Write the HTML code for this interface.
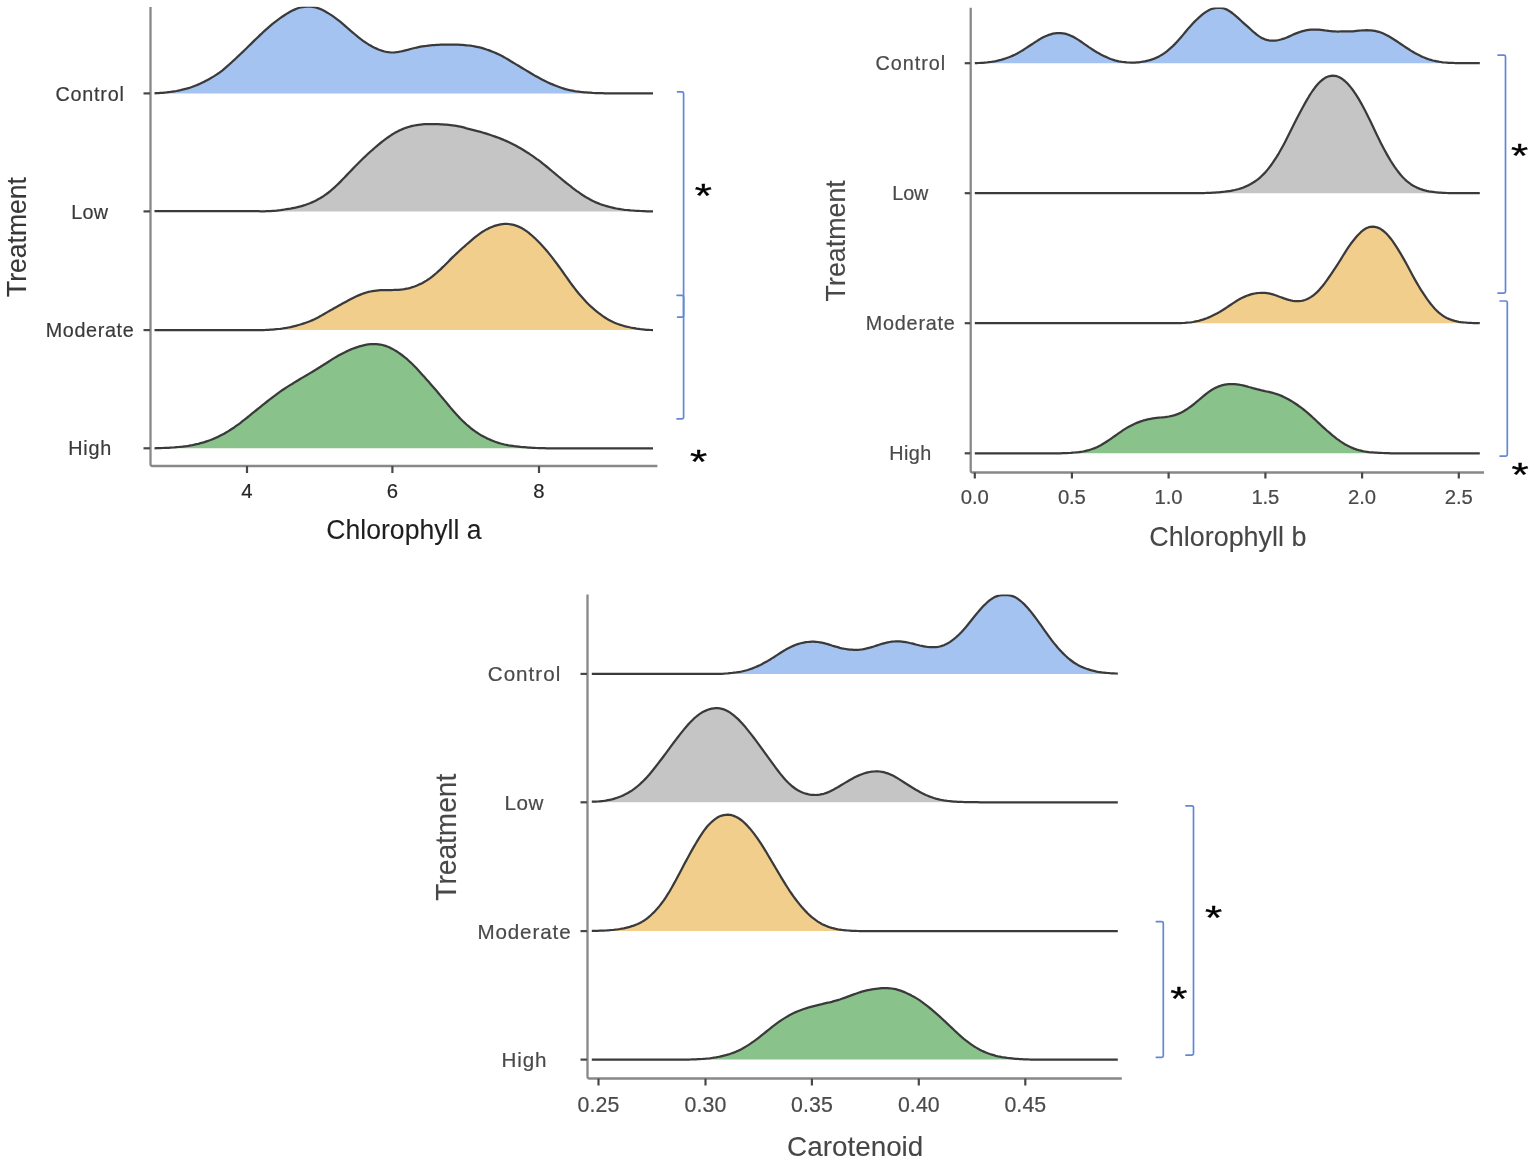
<!DOCTYPE html>
<html lang="en">
<head>
<meta charset="utf-8">
<title>Ridgeline plots</title>
<style>
html,body{margin:0;padding:0;background:#fff;}
body{width:1535px;height:1161px;overflow:hidden;}
svg{display:block;font-family:"Liberation Sans",sans-serif;}
</style>
</head>
<body>
<svg width="1535" height="1161" viewBox="0 0 1535 1161">
<rect width="1535" height="1161" fill="#ffffff"/>
<clipPath id="clip150"><rect x="150.5" y="6.8" width="546.9" height="459.0"/></clipPath>
<g clip-path="url(#clip150)">
<path d="M154.5 93.3L156.5 93.2L158.5 93.1L160.5 92.9L162.5 92.8L164.5 92.6L166.5 92.4L168.5 92.1L170.5 91.9L172.5 91.6L174.5 91.3L176.5 91.0L178.5 90.6L180.5 90.2L182.5 89.7L184.5 89.2L186.5 88.7L188.5 88.1L190.5 87.5L192.5 86.8L194.5 86.0L196.5 85.2L198.5 84.4L200.5 83.5L202.5 82.5L204.5 81.6L206.5 80.5L208.5 79.4L210.5 78.3L212.5 77.1L214.5 75.9L216.5 74.6L218.5 73.3L220.5 71.8L222.5 70.3L224.5 68.6L226.5 66.9L228.5 65.2L230.5 63.3L232.5 61.5L234.5 59.7L236.5 57.8L238.5 55.9L240.5 54.0L242.5 52.1L244.5 50.2L246.5 48.3L248.5 46.3L250.5 44.4L252.5 42.4L254.5 40.4L256.5 38.5L258.5 36.6L260.5 34.6L262.5 32.8L264.5 30.9L266.5 29.1L268.5 27.3L270.5 25.6L272.5 23.9L274.5 22.3L276.5 20.8L278.5 19.3L280.5 17.9L282.5 16.5L284.5 15.2L286.5 13.9L288.5 12.7L290.5 11.6L292.5 10.5L294.5 9.6L296.5 8.7L298.5 8.0L300.5 7.5L302.5 7.1L304.5 6.8L306.5 6.6L308.5 6.6L310.5 6.6L312.5 6.8L314.5 7.2L316.5 7.7L318.5 8.3L320.5 9.1L322.5 10.1L324.5 11.1L326.5 12.2L328.5 13.4L330.5 14.6L332.5 15.9L334.5 17.3L336.5 18.8L338.5 20.3L340.5 21.9L342.5 23.6L344.5 25.3L346.5 27.1L348.5 28.8L350.5 30.6L352.5 32.3L354.5 34.0L356.5 35.7L358.5 37.3L360.5 38.9L362.5 40.4L364.5 41.8L366.5 43.1L368.5 44.4L370.5 45.5L372.5 46.7L374.5 47.7L376.5 48.6L378.5 49.5L380.5 50.2L382.5 50.9L384.5 51.5L386.5 51.9L388.5 52.2L390.5 52.4L392.5 52.5L394.5 52.4L396.5 52.2L398.5 51.9L400.5 51.5L402.5 51.1L404.5 50.6L406.5 50.1L408.5 49.6L410.5 49.0L412.5 48.5L414.5 48.0L416.5 47.6L418.5 47.1L420.5 46.7L422.5 46.4L424.5 46.1L426.5 45.9L428.5 45.6L430.5 45.4L432.5 45.2L434.5 45.1L436.5 44.9L438.5 44.8L440.5 44.7L442.5 44.6L444.5 44.6L446.5 44.5L448.5 44.5L450.5 44.5L452.5 44.6L454.5 44.6L456.5 44.7L458.5 44.7L460.5 44.8L462.5 44.9L464.5 45.1L466.5 45.3L468.5 45.5L470.5 45.7L472.5 46.0L474.5 46.4L476.5 46.8L478.5 47.2L480.5 47.7L482.5 48.2L484.5 48.8L486.5 49.5L488.5 50.1L490.5 50.9L492.5 51.7L494.5 52.5L496.5 53.4L498.5 54.3L500.5 55.3L502.5 56.3L504.5 57.4L506.5 58.6L508.5 59.7L510.5 61.0L512.5 62.2L514.5 63.4L516.5 64.6L518.5 65.8L520.5 67.0L522.5 68.2L524.5 69.4L526.5 70.6L528.5 71.8L530.5 73.0L532.5 74.2L534.5 75.4L536.5 76.5L538.5 77.6L540.5 78.7L542.5 79.8L544.5 80.8L546.5 81.8L548.5 82.7L550.5 83.6L552.5 84.4L554.5 85.2L556.5 86.0L558.5 86.8L560.5 87.5L562.5 88.2L564.5 88.8L566.5 89.4L568.5 89.9L570.5 90.3L572.5 90.7L574.5 91.1L576.5 91.4L578.5 91.6L580.5 91.9L582.5 92.1L584.5 92.3L586.5 92.4L588.5 92.6L590.5 92.7L592.5 92.9L594.5 93.0L596.5 93.0L598.5 93.1L600.5 93.2L602.5 93.2L604.5 93.3L606.5 93.3L608.5 93.3L610.5 93.4L612.5 93.4L614.5 93.4L616.5 93.4L618.5 93.4L620.5 93.4L622.5 93.4L624.5 93.4L626.5 93.4L628.5 93.4L630.5 93.4L632.5 93.4L634.5 93.4L636.5 93.4L638.5 93.4L640.5 93.4L642.5 93.4L644.5 93.4L646.5 93.4L648.5 93.4L650.5 93.4L652.5 93.4L653.0 93.4L653.0 93.4L154.5 93.4Z" fill="#a5c3f1" stroke="none"/>
<path d="M154.5 93.3L156.5 93.2L158.5 93.1L160.5 92.9L162.5 92.8L164.5 92.6L166.5 92.4L168.5 92.1L170.5 91.9L172.5 91.6L174.5 91.3L176.5 91.0L178.5 90.6L180.5 90.2L182.5 89.7L184.5 89.2L186.5 88.7L188.5 88.1L190.5 87.5L192.5 86.8L194.5 86.0L196.5 85.2L198.5 84.4L200.5 83.5L202.5 82.5L204.5 81.6L206.5 80.5L208.5 79.4L210.5 78.3L212.5 77.1L214.5 75.9L216.5 74.6L218.5 73.3L220.5 71.8L222.5 70.3L224.5 68.6L226.5 66.9L228.5 65.2L230.5 63.3L232.5 61.5L234.5 59.7L236.5 57.8L238.5 55.9L240.5 54.0L242.5 52.1L244.5 50.2L246.5 48.3L248.5 46.3L250.5 44.4L252.5 42.4L254.5 40.4L256.5 38.5L258.5 36.6L260.5 34.6L262.5 32.8L264.5 30.9L266.5 29.1L268.5 27.3L270.5 25.6L272.5 23.9L274.5 22.3L276.5 20.8L278.5 19.3L280.5 17.9L282.5 16.5L284.5 15.2L286.5 13.9L288.5 12.7L290.5 11.6L292.5 10.5L294.5 9.6L296.5 8.7L298.5 8.0L300.5 7.5L302.5 7.1L304.5 6.8L306.5 6.6L308.5 6.6L310.5 6.6L312.5 6.8L314.5 7.2L316.5 7.7L318.5 8.3L320.5 9.1L322.5 10.1L324.5 11.1L326.5 12.2L328.5 13.4L330.5 14.6L332.5 15.9L334.5 17.3L336.5 18.8L338.5 20.3L340.5 21.9L342.5 23.6L344.5 25.3L346.5 27.1L348.5 28.8L350.5 30.6L352.5 32.3L354.5 34.0L356.5 35.7L358.5 37.3L360.5 38.9L362.5 40.4L364.5 41.8L366.5 43.1L368.5 44.4L370.5 45.5L372.5 46.7L374.5 47.7L376.5 48.6L378.5 49.5L380.5 50.2L382.5 50.9L384.5 51.5L386.5 51.9L388.5 52.2L390.5 52.4L392.5 52.5L394.5 52.4L396.5 52.2L398.5 51.9L400.5 51.5L402.5 51.1L404.5 50.6L406.5 50.1L408.5 49.6L410.5 49.0L412.5 48.5L414.5 48.0L416.5 47.6L418.5 47.1L420.5 46.7L422.5 46.4L424.5 46.1L426.5 45.9L428.5 45.6L430.5 45.4L432.5 45.2L434.5 45.1L436.5 44.9L438.5 44.8L440.5 44.7L442.5 44.6L444.5 44.6L446.5 44.5L448.5 44.5L450.5 44.5L452.5 44.6L454.5 44.6L456.5 44.7L458.5 44.7L460.5 44.8L462.5 44.9L464.5 45.1L466.5 45.3L468.5 45.5L470.5 45.7L472.5 46.0L474.5 46.4L476.5 46.8L478.5 47.2L480.5 47.7L482.5 48.2L484.5 48.8L486.5 49.5L488.5 50.1L490.5 50.9L492.5 51.7L494.5 52.5L496.5 53.4L498.5 54.3L500.5 55.3L502.5 56.3L504.5 57.4L506.5 58.6L508.5 59.7L510.5 61.0L512.5 62.2L514.5 63.4L516.5 64.6L518.5 65.8L520.5 67.0L522.5 68.2L524.5 69.4L526.5 70.6L528.5 71.8L530.5 73.0L532.5 74.2L534.5 75.4L536.5 76.5L538.5 77.6L540.5 78.7L542.5 79.8L544.5 80.8L546.5 81.8L548.5 82.7L550.5 83.6L552.5 84.4L554.5 85.2L556.5 86.0L558.5 86.8L560.5 87.5L562.5 88.2L564.5 88.8L566.5 89.4L568.5 89.9L570.5 90.3L572.5 90.7L574.5 91.1L576.5 91.4L578.5 91.6L580.5 91.9L582.5 92.1L584.5 92.3L586.5 92.4L588.5 92.6L590.5 92.7L592.5 92.9L594.5 93.0L596.5 93.0L598.5 93.1L600.5 93.2L602.5 93.2L604.5 93.3L606.5 93.3L608.5 93.3L610.5 93.4L612.5 93.4L614.5 93.4L616.5 93.4L618.5 93.4L620.5 93.4L622.5 93.4L624.5 93.4L626.5 93.4L628.5 93.4L630.5 93.4L632.5 93.4L634.5 93.4L636.5 93.4L638.5 93.4L640.5 93.4L642.5 93.4L644.5 93.4L646.5 93.4L648.5 93.4L650.5 93.4L652.5 93.4L653.0 93.4" fill="none" stroke="#3a3a3a" stroke-width="2.25" stroke-linecap="butt" stroke-linejoin="round"/>
<path d="M154.5 211.1L156.5 211.1L158.5 211.1L160.5 211.1L162.5 211.1L164.5 211.1L166.5 211.1L168.5 211.1L170.5 211.1L172.5 211.1L174.5 211.1L176.5 211.1L178.5 211.1L180.5 211.1L182.5 211.1L184.5 211.1L186.5 211.1L188.5 211.1L190.5 211.1L192.5 211.1L194.5 211.1L196.5 211.1L198.5 211.1L200.5 211.1L202.5 211.1L204.5 211.1L206.5 211.1L208.5 211.1L210.5 211.1L212.5 211.1L214.5 211.1L216.5 211.1L218.5 211.1L220.5 211.1L222.5 211.1L224.5 211.1L226.5 211.1L228.5 211.1L230.5 211.1L232.5 211.1L234.5 211.1L236.5 211.1L238.5 211.1L240.5 211.1L242.5 211.1L244.5 211.1L246.5 211.1L248.5 211.1L250.5 211.1L252.5 211.1L254.5 211.2L256.5 211.2L258.5 211.2L260.5 211.3L262.5 211.3L264.5 211.3L266.5 211.2L268.5 211.2L270.5 211.1L272.5 210.9L274.5 210.8L276.5 210.6L278.5 210.3L280.5 210.1L282.5 209.8L284.5 209.5L286.5 209.2L288.5 208.9L290.5 208.6L292.5 208.2L294.5 207.8L296.5 207.4L298.5 206.9L300.5 206.4L302.5 205.8L304.5 205.2L306.5 204.5L308.5 203.8L310.5 203.0L312.5 202.1L314.5 201.2L316.5 200.2L318.5 199.1L320.5 198.0L322.5 196.8L324.5 195.4L326.5 194.0L328.5 192.5L330.5 190.9L332.5 189.2L334.5 187.4L336.5 185.5L338.5 183.6L340.5 181.6L342.5 179.5L344.5 177.5L346.5 175.4L348.5 173.3L350.5 171.2L352.5 169.1L354.5 167.0L356.5 165.0L358.5 163.0L360.5 161.0L362.5 159.0L364.5 157.1L366.5 155.2L368.5 153.3L370.5 151.5L372.5 149.8L374.5 148.0L376.5 146.3L378.5 144.6L380.5 143.0L382.5 141.4L384.5 139.9L386.5 138.4L388.5 137.0L390.5 135.6L392.5 134.3L394.5 133.1L396.5 132.0L398.5 130.9L400.5 130.0L402.5 129.1L404.5 128.3L406.5 127.6L408.5 127.0L410.5 126.4L412.5 125.9L414.5 125.5L416.5 125.1L418.5 124.8L420.5 124.6L422.5 124.4L424.5 124.2L426.5 124.1L428.5 124.1L430.5 124.0L432.5 124.0L434.5 124.1L436.5 124.1L438.5 124.2L440.5 124.3L442.5 124.4L444.5 124.6L446.5 124.7L448.5 124.9L450.5 125.1L452.5 125.3L454.5 125.6L456.5 125.9L458.5 126.3L460.5 126.7L462.5 127.2L464.5 127.7L466.5 128.3L468.5 128.8L470.5 129.3L472.5 129.8L474.5 130.3L476.5 130.9L478.5 131.4L480.5 131.9L482.5 132.5L484.5 133.1L486.5 133.7L488.5 134.3L490.5 135.0L492.5 135.7L494.5 136.4L496.5 137.1L498.5 137.8L500.5 138.6L502.5 139.4L504.5 140.2L506.5 141.1L508.5 142.0L510.5 143.0L512.5 144.0L514.5 145.0L516.5 146.1L518.5 147.2L520.5 148.3L522.5 149.5L524.5 150.7L526.5 152.0L528.5 153.2L530.5 154.6L532.5 155.9L534.5 157.3L536.5 158.8L538.5 160.2L540.5 161.7L542.5 163.3L544.5 164.9L546.5 166.5L548.5 168.1L550.5 169.8L552.5 171.5L554.5 173.2L556.5 174.8L558.5 176.5L560.5 178.2L562.5 179.8L564.5 181.5L566.5 183.1L568.5 184.7L570.5 186.2L572.5 187.8L574.5 189.3L576.5 190.8L578.5 192.2L580.5 193.6L582.5 195.0L584.5 196.3L586.5 197.5L588.5 198.6L590.5 199.7L592.5 200.8L594.5 201.7L596.5 202.6L598.5 203.4L600.5 204.2L602.5 204.9L604.5 205.5L606.5 206.1L608.5 206.7L610.5 207.2L612.5 207.6L614.5 208.1L616.5 208.5L618.5 208.8L620.5 209.2L622.5 209.5L624.5 209.8L626.5 210.0L628.5 210.2L630.5 210.4L632.5 210.5L634.5 210.7L636.5 210.8L638.5 210.9L640.5 211.0L642.5 211.1L644.5 211.2L646.5 211.3L648.5 211.3L650.5 211.4L652.5 211.4L653.0 211.4L653.0 211.4L154.5 211.4Z" fill="#c5c5c5" stroke="none"/>
<path d="M154.5 211.1L156.5 211.1L158.5 211.1L160.5 211.1L162.5 211.1L164.5 211.1L166.5 211.1L168.5 211.1L170.5 211.1L172.5 211.1L174.5 211.1L176.5 211.1L178.5 211.1L180.5 211.1L182.5 211.1L184.5 211.1L186.5 211.1L188.5 211.1L190.5 211.1L192.5 211.1L194.5 211.1L196.5 211.1L198.5 211.1L200.5 211.1L202.5 211.1L204.5 211.1L206.5 211.1L208.5 211.1L210.5 211.1L212.5 211.1L214.5 211.1L216.5 211.1L218.5 211.1L220.5 211.1L222.5 211.1L224.5 211.1L226.5 211.1L228.5 211.1L230.5 211.1L232.5 211.1L234.5 211.1L236.5 211.1L238.5 211.1L240.5 211.1L242.5 211.1L244.5 211.1L246.5 211.1L248.5 211.1L250.5 211.1L252.5 211.1L254.5 211.2L256.5 211.2L258.5 211.2L260.5 211.3L262.5 211.3L264.5 211.3L266.5 211.2L268.5 211.2L270.5 211.1L272.5 210.9L274.5 210.8L276.5 210.6L278.5 210.3L280.5 210.1L282.5 209.8L284.5 209.5L286.5 209.2L288.5 208.9L290.5 208.6L292.5 208.2L294.5 207.8L296.5 207.4L298.5 206.9L300.5 206.4L302.5 205.8L304.5 205.2L306.5 204.5L308.5 203.8L310.5 203.0L312.5 202.1L314.5 201.2L316.5 200.2L318.5 199.1L320.5 198.0L322.5 196.8L324.5 195.4L326.5 194.0L328.5 192.5L330.5 190.9L332.5 189.2L334.5 187.4L336.5 185.5L338.5 183.6L340.5 181.6L342.5 179.5L344.5 177.5L346.5 175.4L348.5 173.3L350.5 171.2L352.5 169.1L354.5 167.0L356.5 165.0L358.5 163.0L360.5 161.0L362.5 159.0L364.5 157.1L366.5 155.2L368.5 153.3L370.5 151.5L372.5 149.8L374.5 148.0L376.5 146.3L378.5 144.6L380.5 143.0L382.5 141.4L384.5 139.9L386.5 138.4L388.5 137.0L390.5 135.6L392.5 134.3L394.5 133.1L396.5 132.0L398.5 130.9L400.5 130.0L402.5 129.1L404.5 128.3L406.5 127.6L408.5 127.0L410.5 126.4L412.5 125.9L414.5 125.5L416.5 125.1L418.5 124.8L420.5 124.6L422.5 124.4L424.5 124.2L426.5 124.1L428.5 124.1L430.5 124.0L432.5 124.0L434.5 124.1L436.5 124.1L438.5 124.2L440.5 124.3L442.5 124.4L444.5 124.6L446.5 124.7L448.5 124.9L450.5 125.1L452.5 125.3L454.5 125.6L456.5 125.9L458.5 126.3L460.5 126.7L462.5 127.2L464.5 127.7L466.5 128.3L468.5 128.8L470.5 129.3L472.5 129.8L474.5 130.3L476.5 130.9L478.5 131.4L480.5 131.9L482.5 132.5L484.5 133.1L486.5 133.7L488.5 134.3L490.5 135.0L492.5 135.7L494.5 136.4L496.5 137.1L498.5 137.8L500.5 138.6L502.5 139.4L504.5 140.2L506.5 141.1L508.5 142.0L510.5 143.0L512.5 144.0L514.5 145.0L516.5 146.1L518.5 147.2L520.5 148.3L522.5 149.5L524.5 150.7L526.5 152.0L528.5 153.2L530.5 154.6L532.5 155.9L534.5 157.3L536.5 158.8L538.5 160.2L540.5 161.7L542.5 163.3L544.5 164.9L546.5 166.5L548.5 168.1L550.5 169.8L552.5 171.5L554.5 173.2L556.5 174.8L558.5 176.5L560.5 178.2L562.5 179.8L564.5 181.5L566.5 183.1L568.5 184.7L570.5 186.2L572.5 187.8L574.5 189.3L576.5 190.8L578.5 192.2L580.5 193.6L582.5 195.0L584.5 196.3L586.5 197.5L588.5 198.6L590.5 199.7L592.5 200.8L594.5 201.7L596.5 202.6L598.5 203.4L600.5 204.2L602.5 204.9L604.5 205.5L606.5 206.1L608.5 206.7L610.5 207.2L612.5 207.6L614.5 208.1L616.5 208.5L618.5 208.8L620.5 209.2L622.5 209.5L624.5 209.8L626.5 210.0L628.5 210.2L630.5 210.4L632.5 210.5L634.5 210.7L636.5 210.8L638.5 210.9L640.5 211.0L642.5 211.1L644.5 211.2L646.5 211.3L648.5 211.3L650.5 211.4L652.5 211.4L653.0 211.4" fill="none" stroke="#3a3a3a" stroke-width="2.25" stroke-linecap="butt" stroke-linejoin="round"/>
<path d="M154.5 330.1L156.5 330.1L158.5 330.1L160.5 330.1L162.5 330.1L164.5 330.1L166.5 330.1L168.5 330.1L170.5 330.1L172.5 330.1L174.5 330.1L176.5 330.1L178.5 330.1L180.5 330.1L182.5 330.1L184.5 330.1L186.5 330.1L188.5 330.1L190.5 330.1L192.5 330.1L194.5 330.1L196.5 330.1L198.5 330.1L200.5 330.1L202.5 330.1L204.5 330.1L206.5 330.1L208.5 330.1L210.5 330.1L212.5 330.1L214.5 330.1L216.5 330.1L218.5 330.1L220.5 330.1L222.5 330.1L224.5 330.1L226.5 330.1L228.5 330.1L230.5 330.1L232.5 330.1L234.5 330.1L236.5 330.1L238.5 330.1L240.5 330.1L242.5 330.1L244.5 330.1L246.5 330.1L248.5 330.1L250.5 330.1L252.5 330.1L254.5 330.1L256.5 330.1L258.5 330.1L260.5 330.1L262.5 330.0L264.5 330.0L266.5 329.9L268.5 329.8L270.5 329.7L272.5 329.6L274.5 329.4L276.5 329.2L278.5 329.0L280.5 328.8L282.5 328.5L284.5 328.2L286.5 327.9L288.5 327.5L290.5 327.1L292.5 326.6L294.5 326.1L296.5 325.6L298.5 325.0L300.5 324.5L302.5 323.8L304.5 323.2L306.5 322.5L308.5 321.8L310.5 321.0L312.5 320.1L314.5 319.2L316.5 318.2L318.5 317.2L320.5 316.1L322.5 314.9L324.5 313.8L326.5 312.6L328.5 311.4L330.5 310.3L332.5 309.2L334.5 308.0L336.5 306.9L338.5 305.8L340.5 304.7L342.5 303.6L344.5 302.5L346.5 301.4L348.5 300.3L350.5 299.2L352.5 298.2L354.5 297.2L356.5 296.3L358.5 295.4L360.5 294.6L362.5 293.8L364.5 293.1L366.5 292.5L368.5 291.9L370.5 291.5L372.5 291.1L374.5 290.8L376.5 290.6L378.5 290.4L380.5 290.2L382.5 290.1L384.5 290.1L386.5 290.0L388.5 290.0L390.5 290.0L392.5 290.0L394.5 289.9L396.5 289.9L398.5 289.8L400.5 289.6L402.5 289.4L404.5 289.1L406.5 288.7L408.5 288.3L410.5 287.8L412.5 287.1L414.5 286.5L416.5 285.7L418.5 284.8L420.5 283.9L422.5 282.9L424.5 281.8L426.5 280.6L428.5 279.3L430.5 277.9L432.5 276.3L434.5 274.7L436.5 273.0L438.5 271.2L440.5 269.4L442.5 267.4L444.5 265.5L446.5 263.5L448.5 261.5L450.5 259.4L452.5 257.4L454.5 255.5L456.5 253.6L458.5 251.7L460.5 249.8L462.5 248.0L464.5 246.3L466.5 244.5L468.5 242.8L470.5 241.1L472.5 239.4L474.5 237.7L476.5 236.1L478.5 234.6L480.5 233.1L482.5 231.8L484.5 230.6L486.5 229.4L488.5 228.4L490.5 227.5L492.5 226.7L494.5 225.9L496.5 225.3L498.5 224.8L500.5 224.4L502.5 224.1L504.5 223.9L506.5 223.9L508.5 224.0L510.5 224.3L512.5 224.6L514.5 225.2L516.5 225.8L518.5 226.6L520.5 227.5L522.5 228.6L524.5 229.8L526.5 231.2L528.5 232.6L530.5 234.3L532.5 236.0L534.5 237.8L536.5 239.7L538.5 241.7L540.5 243.8L542.5 246.0L544.5 248.2L546.5 250.5L548.5 252.9L550.5 255.4L552.5 257.9L554.5 260.6L556.5 263.2L558.5 266.0L560.5 268.7L562.5 271.5L564.5 274.4L566.5 277.2L568.5 280.0L570.5 282.8L572.5 285.5L574.5 288.1L576.5 290.7L578.5 293.2L580.5 295.5L582.5 297.8L584.5 300.0L586.5 302.2L588.5 304.2L590.5 306.1L592.5 307.9L594.5 309.7L596.5 311.3L598.5 312.9L600.5 314.4L602.5 315.9L604.5 317.2L606.5 318.5L608.5 319.7L610.5 320.8L612.5 321.8L614.5 322.7L616.5 323.5L618.5 324.2L620.5 324.9L622.5 325.5L624.5 326.1L626.5 326.6L628.5 327.0L630.5 327.5L632.5 327.9L634.5 328.2L636.5 328.6L638.5 328.9L640.5 329.2L642.5 329.4L644.5 329.6L646.5 329.8L648.5 329.9L650.5 330.0L652.5 330.1L653.0 330.1L653.0 330.1L154.5 330.1Z" fill="#f2ce8d" stroke="none"/>
<path d="M154.5 330.1L156.5 330.1L158.5 330.1L160.5 330.1L162.5 330.1L164.5 330.1L166.5 330.1L168.5 330.1L170.5 330.1L172.5 330.1L174.5 330.1L176.5 330.1L178.5 330.1L180.5 330.1L182.5 330.1L184.5 330.1L186.5 330.1L188.5 330.1L190.5 330.1L192.5 330.1L194.5 330.1L196.5 330.1L198.5 330.1L200.5 330.1L202.5 330.1L204.5 330.1L206.5 330.1L208.5 330.1L210.5 330.1L212.5 330.1L214.5 330.1L216.5 330.1L218.5 330.1L220.5 330.1L222.5 330.1L224.5 330.1L226.5 330.1L228.5 330.1L230.5 330.1L232.5 330.1L234.5 330.1L236.5 330.1L238.5 330.1L240.5 330.1L242.5 330.1L244.5 330.1L246.5 330.1L248.5 330.1L250.5 330.1L252.5 330.1L254.5 330.1L256.5 330.1L258.5 330.1L260.5 330.1L262.5 330.0L264.5 330.0L266.5 329.9L268.5 329.8L270.5 329.7L272.5 329.6L274.5 329.4L276.5 329.2L278.5 329.0L280.5 328.8L282.5 328.5L284.5 328.2L286.5 327.9L288.5 327.5L290.5 327.1L292.5 326.6L294.5 326.1L296.5 325.6L298.5 325.0L300.5 324.5L302.5 323.8L304.5 323.2L306.5 322.5L308.5 321.8L310.5 321.0L312.5 320.1L314.5 319.2L316.5 318.2L318.5 317.2L320.5 316.1L322.5 314.9L324.5 313.8L326.5 312.6L328.5 311.4L330.5 310.3L332.5 309.2L334.5 308.0L336.5 306.9L338.5 305.8L340.5 304.7L342.5 303.6L344.5 302.5L346.5 301.4L348.5 300.3L350.5 299.2L352.5 298.2L354.5 297.2L356.5 296.3L358.5 295.4L360.5 294.6L362.5 293.8L364.5 293.1L366.5 292.5L368.5 291.9L370.5 291.5L372.5 291.1L374.5 290.8L376.5 290.6L378.5 290.4L380.5 290.2L382.5 290.1L384.5 290.1L386.5 290.0L388.5 290.0L390.5 290.0L392.5 290.0L394.5 289.9L396.5 289.9L398.5 289.8L400.5 289.6L402.5 289.4L404.5 289.1L406.5 288.7L408.5 288.3L410.5 287.8L412.5 287.1L414.5 286.5L416.5 285.7L418.5 284.8L420.5 283.9L422.5 282.9L424.5 281.8L426.5 280.6L428.5 279.3L430.5 277.9L432.5 276.3L434.5 274.7L436.5 273.0L438.5 271.2L440.5 269.4L442.5 267.4L444.5 265.5L446.5 263.5L448.5 261.5L450.5 259.4L452.5 257.4L454.5 255.5L456.5 253.6L458.5 251.7L460.5 249.8L462.5 248.0L464.5 246.3L466.5 244.5L468.5 242.8L470.5 241.1L472.5 239.4L474.5 237.7L476.5 236.1L478.5 234.6L480.5 233.1L482.5 231.8L484.5 230.6L486.5 229.4L488.5 228.4L490.5 227.5L492.5 226.7L494.5 225.9L496.5 225.3L498.5 224.8L500.5 224.4L502.5 224.1L504.5 223.9L506.5 223.9L508.5 224.0L510.5 224.3L512.5 224.6L514.5 225.2L516.5 225.8L518.5 226.6L520.5 227.5L522.5 228.6L524.5 229.8L526.5 231.2L528.5 232.6L530.5 234.3L532.5 236.0L534.5 237.8L536.5 239.7L538.5 241.7L540.5 243.8L542.5 246.0L544.5 248.2L546.5 250.5L548.5 252.9L550.5 255.4L552.5 257.9L554.5 260.6L556.5 263.2L558.5 266.0L560.5 268.7L562.5 271.5L564.5 274.4L566.5 277.2L568.5 280.0L570.5 282.8L572.5 285.5L574.5 288.1L576.5 290.7L578.5 293.2L580.5 295.5L582.5 297.8L584.5 300.0L586.5 302.2L588.5 304.2L590.5 306.1L592.5 307.9L594.5 309.7L596.5 311.3L598.5 312.9L600.5 314.4L602.5 315.9L604.5 317.2L606.5 318.5L608.5 319.7L610.5 320.8L612.5 321.8L614.5 322.7L616.5 323.5L618.5 324.2L620.5 324.9L622.5 325.5L624.5 326.1L626.5 326.6L628.5 327.0L630.5 327.5L632.5 327.9L634.5 328.2L636.5 328.6L638.5 328.9L640.5 329.2L642.5 329.4L644.5 329.6L646.5 329.8L648.5 329.9L650.5 330.0L652.5 330.1L653.0 330.1" fill="none" stroke="#3a3a3a" stroke-width="2.25" stroke-linecap="butt" stroke-linejoin="round"/>
<path d="M154.5 448.3L156.5 448.2L158.5 448.2L160.5 448.1L162.5 448.0L164.5 447.9L166.5 447.9L168.5 447.8L170.5 447.6L172.5 447.5L174.5 447.4L176.5 447.2L178.5 447.0L180.5 446.8L182.5 446.6L184.5 446.3L186.5 446.1L188.5 445.8L190.5 445.4L192.5 445.1L194.5 444.7L196.5 444.2L198.5 443.8L200.5 443.2L202.5 442.7L204.5 442.1L206.5 441.4L208.5 440.7L210.5 440.0L212.5 439.2L214.5 438.4L216.5 437.5L218.5 436.6L220.5 435.6L222.5 434.6L224.5 433.5L226.5 432.3L228.5 431.1L230.5 429.8L232.5 428.5L234.5 427.2L236.5 425.7L238.5 424.3L240.5 422.8L242.5 421.2L244.5 419.7L246.5 418.1L248.5 416.5L250.5 414.8L252.5 413.2L254.5 411.6L256.5 410.0L258.5 408.4L260.5 406.8L262.5 405.2L264.5 403.6L266.5 402.0L268.5 400.4L270.5 398.9L272.5 397.3L274.5 395.8L276.5 394.3L278.5 392.8L280.5 391.4L282.5 390.0L284.5 388.7L286.5 387.4L288.5 386.1L290.5 384.9L292.5 383.7L294.5 382.4L296.5 381.2L298.5 380.0L300.5 378.8L302.5 377.6L304.5 376.4L306.5 375.3L308.5 374.1L310.5 372.9L312.5 371.7L314.5 370.5L316.5 369.3L318.5 368.0L320.5 366.8L322.5 365.5L324.5 364.2L326.5 363.0L328.5 361.7L330.5 360.4L332.5 359.1L334.5 357.9L336.5 356.7L338.5 355.6L340.5 354.5L342.5 353.4L344.5 352.4L346.5 351.4L348.5 350.5L350.5 349.6L352.5 348.8L354.5 348.1L356.5 347.4L358.5 346.7L360.5 346.1L362.5 345.6L364.5 345.1L366.5 344.7L368.5 344.4L370.5 344.2L372.5 344.1L374.5 344.1L376.5 344.1L378.5 344.3L380.5 344.6L382.5 345.0L384.5 345.6L386.5 346.2L388.5 347.0L390.5 347.9L392.5 348.9L394.5 350.1L396.5 351.3L398.5 352.6L400.5 354.0L402.5 355.5L404.5 357.1L406.5 358.7L408.5 360.5L410.5 362.3L412.5 364.2L414.5 366.2L416.5 368.3L418.5 370.5L420.5 372.7L422.5 374.9L424.5 377.1L426.5 379.4L428.5 381.6L430.5 383.9L432.5 386.2L434.5 388.5L436.5 390.8L438.5 393.2L440.5 395.6L442.5 398.0L444.5 400.4L446.5 402.8L448.5 405.2L450.5 407.6L452.5 409.9L454.5 412.2L456.5 414.4L458.5 416.6L460.5 418.7L462.5 420.7L464.5 422.6L466.5 424.5L468.5 426.2L470.5 427.9L472.5 429.5L474.5 430.9L476.5 432.3L478.5 433.6L480.5 434.9L482.5 436.0L484.5 437.1L486.5 438.1L488.5 439.0L490.5 439.9L492.5 440.7L494.5 441.5L496.5 442.2L498.5 442.9L500.5 443.5L502.5 444.0L504.5 444.5L506.5 444.9L508.5 445.3L510.5 445.6L512.5 445.9L514.5 446.2L516.5 446.4L518.5 446.6L520.5 446.9L522.5 447.1L524.5 447.2L526.5 447.4L528.5 447.6L530.5 447.7L532.5 447.8L534.5 447.9L536.5 448.0L538.5 448.1L540.5 448.1L542.5 448.2L544.5 448.2L546.5 448.3L548.5 448.3L550.5 448.3L552.5 448.3L554.5 448.3L556.5 448.3L558.5 448.3L560.5 448.3L562.5 448.3L564.5 448.3L566.5 448.3L568.5 448.3L570.5 448.3L572.5 448.3L574.5 448.3L576.5 448.3L578.5 448.3L580.5 448.3L582.5 448.3L584.5 448.3L586.5 448.3L588.5 448.3L590.5 448.3L592.5 448.3L594.5 448.3L596.5 448.3L598.5 448.3L600.5 448.3L602.5 448.3L604.5 448.3L606.5 448.3L608.5 448.3L610.5 448.3L612.5 448.3L614.5 448.3L616.5 448.3L618.5 448.3L620.5 448.3L622.5 448.3L624.5 448.3L626.5 448.3L628.5 448.3L630.5 448.3L632.5 448.3L634.5 448.3L636.5 448.3L638.5 448.3L640.5 448.3L642.5 448.3L644.5 448.3L646.5 448.3L648.5 448.3L650.5 448.3L652.5 448.3L653.0 448.3L653.0 448.3L154.5 448.3Z" fill="#89c38b" stroke="none"/>
<path d="M154.5 448.3L156.5 448.2L158.5 448.2L160.5 448.1L162.5 448.0L164.5 447.9L166.5 447.9L168.5 447.8L170.5 447.6L172.5 447.5L174.5 447.4L176.5 447.2L178.5 447.0L180.5 446.8L182.5 446.6L184.5 446.3L186.5 446.1L188.5 445.8L190.5 445.4L192.5 445.1L194.5 444.7L196.5 444.2L198.5 443.8L200.5 443.2L202.5 442.7L204.5 442.1L206.5 441.4L208.5 440.7L210.5 440.0L212.5 439.2L214.5 438.4L216.5 437.5L218.5 436.6L220.5 435.6L222.5 434.6L224.5 433.5L226.5 432.3L228.5 431.1L230.5 429.8L232.5 428.5L234.5 427.2L236.5 425.7L238.5 424.3L240.5 422.8L242.5 421.2L244.5 419.7L246.5 418.1L248.5 416.5L250.5 414.8L252.5 413.2L254.5 411.6L256.5 410.0L258.5 408.4L260.5 406.8L262.5 405.2L264.5 403.6L266.5 402.0L268.5 400.4L270.5 398.9L272.5 397.3L274.5 395.8L276.5 394.3L278.5 392.8L280.5 391.4L282.5 390.0L284.5 388.7L286.5 387.4L288.5 386.1L290.5 384.9L292.5 383.7L294.5 382.4L296.5 381.2L298.5 380.0L300.5 378.8L302.5 377.6L304.5 376.4L306.5 375.3L308.5 374.1L310.5 372.9L312.5 371.7L314.5 370.5L316.5 369.3L318.5 368.0L320.5 366.8L322.5 365.5L324.5 364.2L326.5 363.0L328.5 361.7L330.5 360.4L332.5 359.1L334.5 357.9L336.5 356.7L338.5 355.6L340.5 354.5L342.5 353.4L344.5 352.4L346.5 351.4L348.5 350.5L350.5 349.6L352.5 348.8L354.5 348.1L356.5 347.4L358.5 346.7L360.5 346.1L362.5 345.6L364.5 345.1L366.5 344.7L368.5 344.4L370.5 344.2L372.5 344.1L374.5 344.1L376.5 344.1L378.5 344.3L380.5 344.6L382.5 345.0L384.5 345.6L386.5 346.2L388.5 347.0L390.5 347.9L392.5 348.9L394.5 350.1L396.5 351.3L398.5 352.6L400.5 354.0L402.5 355.5L404.5 357.1L406.5 358.7L408.5 360.5L410.5 362.3L412.5 364.2L414.5 366.2L416.5 368.3L418.5 370.5L420.5 372.7L422.5 374.9L424.5 377.1L426.5 379.4L428.5 381.6L430.5 383.9L432.5 386.2L434.5 388.5L436.5 390.8L438.5 393.2L440.5 395.6L442.5 398.0L444.5 400.4L446.5 402.8L448.5 405.2L450.5 407.6L452.5 409.9L454.5 412.2L456.5 414.4L458.5 416.6L460.5 418.7L462.5 420.7L464.5 422.6L466.5 424.5L468.5 426.2L470.5 427.9L472.5 429.5L474.5 430.9L476.5 432.3L478.5 433.6L480.5 434.9L482.5 436.0L484.5 437.1L486.5 438.1L488.5 439.0L490.5 439.9L492.5 440.7L494.5 441.5L496.5 442.2L498.5 442.9L500.5 443.5L502.5 444.0L504.5 444.5L506.5 444.9L508.5 445.3L510.5 445.6L512.5 445.9L514.5 446.2L516.5 446.4L518.5 446.6L520.5 446.9L522.5 447.1L524.5 447.2L526.5 447.4L528.5 447.6L530.5 447.7L532.5 447.8L534.5 447.9L536.5 448.0L538.5 448.1L540.5 448.1L542.5 448.2L544.5 448.2L546.5 448.3L548.5 448.3L550.5 448.3L552.5 448.3L554.5 448.3L556.5 448.3L558.5 448.3L560.5 448.3L562.5 448.3L564.5 448.3L566.5 448.3L568.5 448.3L570.5 448.3L572.5 448.3L574.5 448.3L576.5 448.3L578.5 448.3L580.5 448.3L582.5 448.3L584.5 448.3L586.5 448.3L588.5 448.3L590.5 448.3L592.5 448.3L594.5 448.3L596.5 448.3L598.5 448.3L600.5 448.3L602.5 448.3L604.5 448.3L606.5 448.3L608.5 448.3L610.5 448.3L612.5 448.3L614.5 448.3L616.5 448.3L618.5 448.3L620.5 448.3L622.5 448.3L624.5 448.3L626.5 448.3L628.5 448.3L630.5 448.3L632.5 448.3L634.5 448.3L636.5 448.3L638.5 448.3L640.5 448.3L642.5 448.3L644.5 448.3L646.5 448.3L648.5 448.3L650.5 448.3L652.5 448.3L653.0 448.3" fill="none" stroke="#3a3a3a" stroke-width="2.25" stroke-linecap="butt" stroke-linejoin="round"/>
</g>
<path d="M150.5 7.0V464.0Q150.5 466.0 152.5 466.0H657.4" fill="none" stroke="#888888" stroke-width="2.3"/>
<line x1="143.5" y1="93.4" x2="150.0" y2="93.4" stroke="#484848" stroke-width="2.20"/>
<text x="89.7" y="100.5" font-size="19.8" text-anchor="middle" fill="#3a3a3a" textLength="68.4" lengthAdjust="spacing" stroke="#3a3a3a" stroke-width="0.20">Control</text>
<line x1="143.5" y1="211.4" x2="150.0" y2="211.4" stroke="#484848" stroke-width="2.20"/>
<text x="89.7" y="218.5" font-size="19.8" text-anchor="middle" fill="#3a3a3a" textLength="36.7" lengthAdjust="spacing" stroke="#3a3a3a" stroke-width="0.20">Low</text>
<line x1="143.5" y1="330.1" x2="150.0" y2="330.1" stroke="#484848" stroke-width="2.20"/>
<text x="89.7" y="337.2" font-size="19.8" text-anchor="middle" fill="#3a3a3a" textLength="88.0" lengthAdjust="spacing" stroke="#3a3a3a" stroke-width="0.20">Moderate</text>
<line x1="143.5" y1="448.3" x2="150.0" y2="448.3" stroke="#484848" stroke-width="2.20"/>
<text x="89.7" y="455.4" font-size="19.8" text-anchor="middle" fill="#3a3a3a" textLength="43.0" lengthAdjust="spacing" stroke="#3a3a3a" stroke-width="0.20">High</text>
<line x1="247.0" y1="466.0" x2="247.0" y2="473.0" stroke="#484848" stroke-width="2.20"/>
<text x="247.0" y="497.9" font-size="20.3" text-anchor="middle" fill="#262626" stroke="#262626" stroke-width="0.20">4</text>
<line x1="392.4" y1="466.0" x2="392.4" y2="473.0" stroke="#484848" stroke-width="2.20"/>
<text x="392.4" y="497.9" font-size="20.3" text-anchor="middle" fill="#262626" stroke="#262626" stroke-width="0.20">6</text>
<line x1="539.0" y1="466.0" x2="539.0" y2="473.0" stroke="#484848" stroke-width="2.20"/>
<text x="539.0" y="497.9" font-size="20.3" text-anchor="middle" fill="#262626" stroke="#262626" stroke-width="0.20">8</text>
<text x="403.9" y="539.3" font-size="27.0" text-anchor="middle" fill="#1e1e1e" textLength="155.2" lengthAdjust="spacingAndGlyphs" stroke="#1e1e1e" stroke-width="0.10">Chlorophyll a</text>
<text x="25.5" y="237.0" font-size="27.3" text-anchor="middle" fill="#383838" textLength="120.0" lengthAdjust="spacingAndGlyphs" stroke="#383838" stroke-width="0.10" transform="rotate(-90 25.5 237.0)">Treatment</text>
<path d="M677.6 91.9 H682.0 Q683.6 91.9 683.6 93.5 V315.6 Q683.6 317.2 682.0 317.2 H677.6" fill="none" stroke="#6188d4" stroke-width="1.7" stroke-linecap="round"/>
<path d="M677.1 295.3 H682.0 Q683.6 295.3 683.6 296.9 V417.3 Q683.6 418.9 682.0 418.9 H677.1" fill="none" stroke="#6188d4" stroke-width="1.7" stroke-linecap="round"/>
<g transform="translate(703.25 206.65) scale(1.26 0.95)"><text x="0" y="0" font-size="35" text-anchor="middle" fill="#000" stroke="#000" stroke-width="0.35" stroke-linejoin="round">*</text></g>
<g transform="translate(698.65 472.65) scale(1.26 0.95)"><text x="0" y="0" font-size="35" text-anchor="middle" fill="#000" stroke="#000" stroke-width="0.35" stroke-linejoin="round">*</text></g>
<clipPath id="clip970"><rect x="970.7" y="7.5" width="553.3" height="464.8"/></clipPath>
<g clip-path="url(#clip970)">
<path d="M974.8 63.2L976.8 63.1L978.8 63.0L980.8 62.9L982.8 62.8L984.8 62.6L986.8 62.5L988.8 62.2L990.8 62.0L992.8 61.6L994.8 61.3L996.8 60.9L998.8 60.4L1000.8 59.9L1002.8 59.3L1004.8 58.7L1006.8 58.0L1008.8 57.3L1010.8 56.5L1012.8 55.6L1014.8 54.7L1016.8 53.7L1018.8 52.6L1020.8 51.4L1022.8 50.2L1024.8 48.9L1026.8 47.6L1028.8 46.3L1030.8 45.0L1032.8 43.7L1034.8 42.3L1036.8 41.1L1038.8 39.8L1040.8 38.6L1042.8 37.5L1044.8 36.5L1046.8 35.7L1048.8 34.9L1050.8 34.3L1052.8 33.7L1054.8 33.4L1056.8 33.1L1058.8 33.0L1060.8 33.1L1062.8 33.3L1064.8 33.7L1066.8 34.2L1068.8 34.9L1070.8 35.7L1072.8 36.6L1074.8 37.7L1076.8 38.9L1078.8 40.1L1080.8 41.5L1082.8 42.9L1084.8 44.3L1086.8 45.7L1088.8 47.1L1090.8 48.4L1092.8 49.7L1094.8 51.0L1096.8 52.2L1098.8 53.3L1100.8 54.4L1102.8 55.4L1104.8 56.4L1106.8 57.3L1108.8 58.2L1110.8 59.0L1112.8 59.7L1114.8 60.3L1116.8 60.8L1118.8 61.3L1120.8 61.7L1122.8 62.0L1124.8 62.2L1126.8 62.4L1128.8 62.5L1130.8 62.6L1132.8 62.6L1134.8 62.6L1136.8 62.4L1138.8 62.3L1140.8 62.0L1142.8 61.7L1144.8 61.4L1146.8 60.9L1148.8 60.4L1150.8 59.8L1152.8 59.2L1154.8 58.4L1156.8 57.5L1158.8 56.6L1160.8 55.4L1162.8 54.2L1164.8 52.8L1166.8 51.3L1168.8 49.7L1170.8 47.9L1172.8 46.1L1174.8 44.1L1176.8 42.0L1178.8 39.8L1180.8 37.5L1182.8 35.1L1184.8 32.7L1186.8 30.3L1188.8 27.9L1190.8 25.7L1192.8 23.5L1194.8 21.4L1196.8 19.5L1198.8 17.6L1200.8 15.9L1202.8 14.2L1204.8 12.7L1206.8 11.4L1208.8 10.2L1210.8 9.3L1212.8 8.6L1214.8 8.1L1216.8 7.9L1218.8 7.8L1220.8 7.8L1222.8 8.2L1224.8 8.7L1226.8 9.6L1228.8 10.7L1230.8 12.0L1232.8 13.5L1234.8 15.2L1236.8 16.9L1238.8 18.7L1240.8 20.5L1242.8 22.3L1244.8 24.1L1246.8 25.9L1248.8 27.7L1250.8 29.5L1252.8 31.3L1254.8 33.0L1256.8 34.6L1258.8 36.1L1260.8 37.4L1262.8 38.4L1264.8 39.3L1266.8 39.9L1268.8 40.3L1270.8 40.6L1272.8 40.7L1274.8 40.6L1276.8 40.4L1278.8 40.0L1280.8 39.5L1282.8 38.9L1284.8 38.3L1286.8 37.5L1288.8 36.6L1290.8 35.7L1292.8 34.8L1294.8 33.9L1296.8 33.1L1298.8 32.4L1300.8 31.7L1302.8 31.1L1304.8 30.6L1306.8 30.2L1308.8 29.9L1310.8 29.7L1312.8 29.6L1314.8 29.5L1316.8 29.6L1318.8 29.7L1320.8 29.9L1322.8 30.1L1324.8 30.4L1326.8 30.6L1328.8 30.9L1330.8 31.1L1332.8 31.3L1334.8 31.4L1336.8 31.5L1338.8 31.5L1340.8 31.4L1342.8 31.4L1344.8 31.3L1346.8 31.3L1348.8 31.3L1350.8 31.3L1352.8 31.3L1354.8 31.1L1356.8 30.9L1358.8 30.7L1360.8 30.5L1362.8 30.4L1364.8 30.3L1366.8 30.2L1368.8 30.3L1370.8 30.4L1372.8 30.6L1374.8 30.9L1376.8 31.3L1378.8 31.8L1380.8 32.5L1382.8 33.3L1384.8 34.2L1386.8 35.2L1388.8 36.3L1390.8 37.5L1392.8 38.7L1394.8 40.0L1396.8 41.3L1398.8 42.6L1400.8 44.0L1402.8 45.3L1404.8 46.7L1406.8 48.0L1408.8 49.3L1410.8 50.6L1412.8 51.8L1414.8 53.0L1416.8 54.1L1418.8 55.1L1420.8 56.1L1422.8 57.0L1424.8 57.8L1426.8 58.6L1428.8 59.3L1430.8 59.9L1432.8 60.5L1434.8 60.9L1436.8 61.3L1438.8 61.7L1440.8 62.0L1442.8 62.3L1444.8 62.5L1446.8 62.6L1448.8 62.8L1450.8 62.9L1452.8 62.9L1454.8 63.0L1456.8 63.0L1458.8 63.1L1460.8 63.1L1462.8 63.1L1464.8 63.2L1466.8 63.2L1468.8 63.2L1470.8 63.2L1472.8 63.2L1474.8 63.2L1476.8 63.2L1478.8 63.2L1479.8 63.2L1479.8 63.2L974.8 63.2Z" fill="#a5c3f1" stroke="none"/>
<path d="M974.8 63.2L976.8 63.1L978.8 63.0L980.8 62.9L982.8 62.8L984.8 62.6L986.8 62.5L988.8 62.2L990.8 62.0L992.8 61.6L994.8 61.3L996.8 60.9L998.8 60.4L1000.8 59.9L1002.8 59.3L1004.8 58.7L1006.8 58.0L1008.8 57.3L1010.8 56.5L1012.8 55.6L1014.8 54.7L1016.8 53.7L1018.8 52.6L1020.8 51.4L1022.8 50.2L1024.8 48.9L1026.8 47.6L1028.8 46.3L1030.8 45.0L1032.8 43.7L1034.8 42.3L1036.8 41.1L1038.8 39.8L1040.8 38.6L1042.8 37.5L1044.8 36.5L1046.8 35.7L1048.8 34.9L1050.8 34.3L1052.8 33.7L1054.8 33.4L1056.8 33.1L1058.8 33.0L1060.8 33.1L1062.8 33.3L1064.8 33.7L1066.8 34.2L1068.8 34.9L1070.8 35.7L1072.8 36.6L1074.8 37.7L1076.8 38.9L1078.8 40.1L1080.8 41.5L1082.8 42.9L1084.8 44.3L1086.8 45.7L1088.8 47.1L1090.8 48.4L1092.8 49.7L1094.8 51.0L1096.8 52.2L1098.8 53.3L1100.8 54.4L1102.8 55.4L1104.8 56.4L1106.8 57.3L1108.8 58.2L1110.8 59.0L1112.8 59.7L1114.8 60.3L1116.8 60.8L1118.8 61.3L1120.8 61.7L1122.8 62.0L1124.8 62.2L1126.8 62.4L1128.8 62.5L1130.8 62.6L1132.8 62.6L1134.8 62.6L1136.8 62.4L1138.8 62.3L1140.8 62.0L1142.8 61.7L1144.8 61.4L1146.8 60.9L1148.8 60.4L1150.8 59.8L1152.8 59.2L1154.8 58.4L1156.8 57.5L1158.8 56.6L1160.8 55.4L1162.8 54.2L1164.8 52.8L1166.8 51.3L1168.8 49.7L1170.8 47.9L1172.8 46.1L1174.8 44.1L1176.8 42.0L1178.8 39.8L1180.8 37.5L1182.8 35.1L1184.8 32.7L1186.8 30.3L1188.8 27.9L1190.8 25.7L1192.8 23.5L1194.8 21.4L1196.8 19.5L1198.8 17.6L1200.8 15.9L1202.8 14.2L1204.8 12.7L1206.8 11.4L1208.8 10.2L1210.8 9.3L1212.8 8.6L1214.8 8.1L1216.8 7.9L1218.8 7.8L1220.8 7.8L1222.8 8.2L1224.8 8.7L1226.8 9.6L1228.8 10.7L1230.8 12.0L1232.8 13.5L1234.8 15.2L1236.8 16.9L1238.8 18.7L1240.8 20.5L1242.8 22.3L1244.8 24.1L1246.8 25.9L1248.8 27.7L1250.8 29.5L1252.8 31.3L1254.8 33.0L1256.8 34.6L1258.8 36.1L1260.8 37.4L1262.8 38.4L1264.8 39.3L1266.8 39.9L1268.8 40.3L1270.8 40.6L1272.8 40.7L1274.8 40.6L1276.8 40.4L1278.8 40.0L1280.8 39.5L1282.8 38.9L1284.8 38.3L1286.8 37.5L1288.8 36.6L1290.8 35.7L1292.8 34.8L1294.8 33.9L1296.8 33.1L1298.8 32.4L1300.8 31.7L1302.8 31.1L1304.8 30.6L1306.8 30.2L1308.8 29.9L1310.8 29.7L1312.8 29.6L1314.8 29.5L1316.8 29.6L1318.8 29.7L1320.8 29.9L1322.8 30.1L1324.8 30.4L1326.8 30.6L1328.8 30.9L1330.8 31.1L1332.8 31.3L1334.8 31.4L1336.8 31.5L1338.8 31.5L1340.8 31.4L1342.8 31.4L1344.8 31.3L1346.8 31.3L1348.8 31.3L1350.8 31.3L1352.8 31.3L1354.8 31.1L1356.8 30.9L1358.8 30.7L1360.8 30.5L1362.8 30.4L1364.8 30.3L1366.8 30.2L1368.8 30.3L1370.8 30.4L1372.8 30.6L1374.8 30.9L1376.8 31.3L1378.8 31.8L1380.8 32.5L1382.8 33.3L1384.8 34.2L1386.8 35.2L1388.8 36.3L1390.8 37.5L1392.8 38.7L1394.8 40.0L1396.8 41.3L1398.8 42.6L1400.8 44.0L1402.8 45.3L1404.8 46.7L1406.8 48.0L1408.8 49.3L1410.8 50.6L1412.8 51.8L1414.8 53.0L1416.8 54.1L1418.8 55.1L1420.8 56.1L1422.8 57.0L1424.8 57.8L1426.8 58.6L1428.8 59.3L1430.8 59.9L1432.8 60.5L1434.8 60.9L1436.8 61.3L1438.8 61.7L1440.8 62.0L1442.8 62.3L1444.8 62.5L1446.8 62.6L1448.8 62.8L1450.8 62.9L1452.8 62.9L1454.8 63.0L1456.8 63.0L1458.8 63.1L1460.8 63.1L1462.8 63.1L1464.8 63.2L1466.8 63.2L1468.8 63.2L1470.8 63.2L1472.8 63.2L1474.8 63.2L1476.8 63.2L1478.8 63.2L1479.8 63.2" fill="none" stroke="#3a3a3a" stroke-width="2.25" stroke-linecap="butt" stroke-linejoin="round"/>
<path d="M974.8 193.2L976.8 193.2L978.8 193.2L980.8 193.2L982.8 193.2L984.8 193.2L986.8 193.2L988.8 193.2L990.8 193.2L992.8 193.2L994.8 193.2L996.8 193.2L998.8 193.2L1000.8 193.2L1002.8 193.2L1004.8 193.2L1006.8 193.2L1008.8 193.2L1010.8 193.2L1012.8 193.2L1014.8 193.2L1016.8 193.2L1018.8 193.2L1020.8 193.2L1022.8 193.2L1024.8 193.2L1026.8 193.2L1028.8 193.2L1030.8 193.2L1032.8 193.2L1034.8 193.2L1036.8 193.2L1038.8 193.2L1040.8 193.2L1042.8 193.2L1044.8 193.2L1046.8 193.2L1048.8 193.2L1050.8 193.2L1052.8 193.2L1054.8 193.2L1056.8 193.2L1058.8 193.2L1060.8 193.2L1062.8 193.2L1064.8 193.2L1066.8 193.2L1068.8 193.2L1070.8 193.2L1072.8 193.2L1074.8 193.2L1076.8 193.2L1078.8 193.2L1080.8 193.2L1082.8 193.2L1084.8 193.2L1086.8 193.2L1088.8 193.2L1090.8 193.2L1092.8 193.2L1094.8 193.2L1096.8 193.2L1098.8 193.2L1100.8 193.2L1102.8 193.2L1104.8 193.2L1106.8 193.2L1108.8 193.2L1110.8 193.2L1112.8 193.2L1114.8 193.2L1116.8 193.2L1118.8 193.2L1120.8 193.2L1122.8 193.2L1124.8 193.2L1126.8 193.2L1128.8 193.2L1130.8 193.2L1132.8 193.2L1134.8 193.2L1136.8 193.2L1138.8 193.2L1140.8 193.2L1142.8 193.2L1144.8 193.2L1146.8 193.2L1148.8 193.2L1150.8 193.2L1152.8 193.2L1154.8 193.2L1156.8 193.2L1158.8 193.2L1160.8 193.2L1162.8 193.2L1164.8 193.2L1166.8 193.2L1168.8 193.2L1170.8 193.2L1172.8 193.2L1174.8 193.2L1176.8 193.2L1178.8 193.2L1180.8 193.2L1182.8 193.2L1184.8 193.2L1186.8 193.2L1188.8 193.2L1190.8 193.2L1192.8 193.2L1194.8 193.1L1196.8 193.1L1198.8 193.1L1200.8 193.0L1202.8 193.0L1204.8 193.0L1206.8 192.9L1208.8 192.8L1210.8 192.8L1212.8 192.7L1214.8 192.6L1216.8 192.4L1218.8 192.3L1220.8 192.1L1222.8 191.9L1224.8 191.7L1226.8 191.4L1228.8 191.1L1230.8 190.8L1232.8 190.4L1234.8 190.0L1236.8 189.5L1238.8 189.0L1240.8 188.4L1242.8 187.7L1244.8 186.9L1246.8 186.0L1248.8 185.1L1250.8 184.0L1252.8 182.8L1254.8 181.5L1256.8 180.1L1258.8 178.6L1260.8 176.8L1262.8 174.9L1264.8 172.9L1266.8 170.6L1268.8 168.1L1270.8 165.5L1272.8 162.7L1274.8 159.7L1276.8 156.6L1278.8 153.3L1280.8 149.8L1282.8 146.2L1284.8 142.5L1286.8 138.6L1288.8 134.6L1290.8 130.6L1292.8 126.6L1294.8 122.5L1296.8 118.6L1298.8 114.7L1300.8 110.9L1302.8 107.2L1304.8 103.6L1306.8 100.1L1308.8 96.7L1310.8 93.5L1312.8 90.5L1314.8 87.8L1316.8 85.3L1318.8 83.0L1320.8 81.1L1322.8 79.5L1324.8 78.1L1326.8 77.0L1328.8 76.3L1330.8 75.8L1332.8 75.7L1334.8 75.8L1336.8 76.2L1338.8 77.0L1340.8 78.0L1342.8 79.4L1344.8 81.0L1346.8 82.8L1348.8 85.0L1350.8 87.4L1352.8 90.0L1354.8 92.8L1356.8 95.9L1358.8 99.2L1360.8 102.6L1362.8 106.2L1364.8 110.0L1366.8 113.9L1368.8 118.0L1370.8 122.1L1372.8 126.3L1374.8 130.5L1376.8 134.7L1378.8 138.8L1380.8 142.9L1382.8 146.8L1384.8 150.5L1386.8 154.1L1388.8 157.6L1390.8 161.0L1392.8 164.1L1394.8 167.1L1396.8 169.9L1398.8 172.5L1400.8 175.0L1402.8 177.2L1404.8 179.2L1406.8 181.1L1408.8 182.7L1410.8 184.2L1412.8 185.5L1414.8 186.6L1416.8 187.6L1418.8 188.4L1420.8 189.2L1422.8 189.8L1424.8 190.4L1426.8 190.9L1428.8 191.3L1430.8 191.6L1432.8 191.9L1434.8 192.2L1436.8 192.4L1438.8 192.6L1440.8 192.7L1442.8 192.8L1444.8 192.9L1446.8 193.0L1448.8 193.1L1450.8 193.1L1452.8 193.2L1454.8 193.2L1456.8 193.2L1458.8 193.2L1460.8 193.2L1462.8 193.2L1464.8 193.2L1466.8 193.2L1468.8 193.2L1470.8 193.2L1472.8 193.2L1474.8 193.2L1476.8 193.2L1478.8 193.2L1479.8 193.2L1479.8 193.2L974.8 193.2Z" fill="#c5c5c5" stroke="none"/>
<path d="M974.8 193.2L976.8 193.2L978.8 193.2L980.8 193.2L982.8 193.2L984.8 193.2L986.8 193.2L988.8 193.2L990.8 193.2L992.8 193.2L994.8 193.2L996.8 193.2L998.8 193.2L1000.8 193.2L1002.8 193.2L1004.8 193.2L1006.8 193.2L1008.8 193.2L1010.8 193.2L1012.8 193.2L1014.8 193.2L1016.8 193.2L1018.8 193.2L1020.8 193.2L1022.8 193.2L1024.8 193.2L1026.8 193.2L1028.8 193.2L1030.8 193.2L1032.8 193.2L1034.8 193.2L1036.8 193.2L1038.8 193.2L1040.8 193.2L1042.8 193.2L1044.8 193.2L1046.8 193.2L1048.8 193.2L1050.8 193.2L1052.8 193.2L1054.8 193.2L1056.8 193.2L1058.8 193.2L1060.8 193.2L1062.8 193.2L1064.8 193.2L1066.8 193.2L1068.8 193.2L1070.8 193.2L1072.8 193.2L1074.8 193.2L1076.8 193.2L1078.8 193.2L1080.8 193.2L1082.8 193.2L1084.8 193.2L1086.8 193.2L1088.8 193.2L1090.8 193.2L1092.8 193.2L1094.8 193.2L1096.8 193.2L1098.8 193.2L1100.8 193.2L1102.8 193.2L1104.8 193.2L1106.8 193.2L1108.8 193.2L1110.8 193.2L1112.8 193.2L1114.8 193.2L1116.8 193.2L1118.8 193.2L1120.8 193.2L1122.8 193.2L1124.8 193.2L1126.8 193.2L1128.8 193.2L1130.8 193.2L1132.8 193.2L1134.8 193.2L1136.8 193.2L1138.8 193.2L1140.8 193.2L1142.8 193.2L1144.8 193.2L1146.8 193.2L1148.8 193.2L1150.8 193.2L1152.8 193.2L1154.8 193.2L1156.8 193.2L1158.8 193.2L1160.8 193.2L1162.8 193.2L1164.8 193.2L1166.8 193.2L1168.8 193.2L1170.8 193.2L1172.8 193.2L1174.8 193.2L1176.8 193.2L1178.8 193.2L1180.8 193.2L1182.8 193.2L1184.8 193.2L1186.8 193.2L1188.8 193.2L1190.8 193.2L1192.8 193.2L1194.8 193.1L1196.8 193.1L1198.8 193.1L1200.8 193.0L1202.8 193.0L1204.8 193.0L1206.8 192.9L1208.8 192.8L1210.8 192.8L1212.8 192.7L1214.8 192.6L1216.8 192.4L1218.8 192.3L1220.8 192.1L1222.8 191.9L1224.8 191.7L1226.8 191.4L1228.8 191.1L1230.8 190.8L1232.8 190.4L1234.8 190.0L1236.8 189.5L1238.8 189.0L1240.8 188.4L1242.8 187.7L1244.8 186.9L1246.8 186.0L1248.8 185.1L1250.8 184.0L1252.8 182.8L1254.8 181.5L1256.8 180.1L1258.8 178.6L1260.8 176.8L1262.8 174.9L1264.8 172.9L1266.8 170.6L1268.8 168.1L1270.8 165.5L1272.8 162.7L1274.8 159.7L1276.8 156.6L1278.8 153.3L1280.8 149.8L1282.8 146.2L1284.8 142.5L1286.8 138.6L1288.8 134.6L1290.8 130.6L1292.8 126.6L1294.8 122.5L1296.8 118.6L1298.8 114.7L1300.8 110.9L1302.8 107.2L1304.8 103.6L1306.8 100.1L1308.8 96.7L1310.8 93.5L1312.8 90.5L1314.8 87.8L1316.8 85.3L1318.8 83.0L1320.8 81.1L1322.8 79.5L1324.8 78.1L1326.8 77.0L1328.8 76.3L1330.8 75.8L1332.8 75.7L1334.8 75.8L1336.8 76.2L1338.8 77.0L1340.8 78.0L1342.8 79.4L1344.8 81.0L1346.8 82.8L1348.8 85.0L1350.8 87.4L1352.8 90.0L1354.8 92.8L1356.8 95.9L1358.8 99.2L1360.8 102.6L1362.8 106.2L1364.8 110.0L1366.8 113.9L1368.8 118.0L1370.8 122.1L1372.8 126.3L1374.8 130.5L1376.8 134.7L1378.8 138.8L1380.8 142.9L1382.8 146.8L1384.8 150.5L1386.8 154.1L1388.8 157.6L1390.8 161.0L1392.8 164.1L1394.8 167.1L1396.8 169.9L1398.8 172.5L1400.8 175.0L1402.8 177.2L1404.8 179.2L1406.8 181.1L1408.8 182.7L1410.8 184.2L1412.8 185.5L1414.8 186.6L1416.8 187.6L1418.8 188.4L1420.8 189.2L1422.8 189.8L1424.8 190.4L1426.8 190.9L1428.8 191.3L1430.8 191.6L1432.8 191.9L1434.8 192.2L1436.8 192.4L1438.8 192.6L1440.8 192.7L1442.8 192.8L1444.8 192.9L1446.8 193.0L1448.8 193.1L1450.8 193.1L1452.8 193.2L1454.8 193.2L1456.8 193.2L1458.8 193.2L1460.8 193.2L1462.8 193.2L1464.8 193.2L1466.8 193.2L1468.8 193.2L1470.8 193.2L1472.8 193.2L1474.8 193.2L1476.8 193.2L1478.8 193.2L1479.8 193.2" fill="none" stroke="#3a3a3a" stroke-width="2.25" stroke-linecap="butt" stroke-linejoin="round"/>
<path d="M974.8 323.2L976.8 323.2L978.8 323.2L980.8 323.2L982.8 323.2L984.8 323.2L986.8 323.2L988.8 323.2L990.8 323.2L992.8 323.2L994.8 323.2L996.8 323.2L998.8 323.2L1000.8 323.2L1002.8 323.2L1004.8 323.2L1006.8 323.2L1008.8 323.2L1010.8 323.2L1012.8 323.2L1014.8 323.2L1016.8 323.2L1018.8 323.2L1020.8 323.2L1022.8 323.2L1024.8 323.2L1026.8 323.2L1028.8 323.2L1030.8 323.2L1032.8 323.2L1034.8 323.2L1036.8 323.2L1038.8 323.2L1040.8 323.2L1042.8 323.2L1044.8 323.2L1046.8 323.2L1048.8 323.2L1050.8 323.2L1052.8 323.2L1054.8 323.2L1056.8 323.2L1058.8 323.2L1060.8 323.2L1062.8 323.2L1064.8 323.2L1066.8 323.2L1068.8 323.2L1070.8 323.2L1072.8 323.2L1074.8 323.2L1076.8 323.2L1078.8 323.2L1080.8 323.2L1082.8 323.2L1084.8 323.2L1086.8 323.2L1088.8 323.2L1090.8 323.2L1092.8 323.2L1094.8 323.2L1096.8 323.2L1098.8 323.2L1100.8 323.2L1102.8 323.2L1104.8 323.2L1106.8 323.2L1108.8 323.2L1110.8 323.2L1112.8 323.2L1114.8 323.2L1116.8 323.2L1118.8 323.2L1120.8 323.2L1122.8 323.2L1124.8 323.2L1126.8 323.2L1128.8 323.2L1130.8 323.2L1132.8 323.2L1134.8 323.2L1136.8 323.2L1138.8 323.2L1140.8 323.2L1142.8 323.2L1144.8 323.2L1146.8 323.2L1148.8 323.2L1150.8 323.2L1152.8 323.2L1154.8 323.2L1156.8 323.2L1158.8 323.2L1160.8 323.2L1162.8 323.2L1164.8 323.2L1166.8 323.2L1168.8 323.2L1170.8 323.2L1172.8 323.2L1174.8 323.2L1176.8 323.2L1178.8 323.2L1180.8 323.1L1182.8 323.0L1184.8 322.9L1186.8 322.7L1188.8 322.5L1190.8 322.3L1192.8 322.0L1194.8 321.6L1196.8 321.2L1198.8 320.8L1200.8 320.2L1202.8 319.6L1204.8 318.9L1206.8 318.2L1208.8 317.4L1210.8 316.5L1212.8 315.5L1214.8 314.5L1216.8 313.5L1218.8 312.4L1220.8 311.2L1222.8 310.0L1224.8 308.7L1226.8 307.4L1228.8 306.0L1230.8 304.7L1232.8 303.4L1234.8 302.1L1236.8 300.8L1238.8 299.6L1240.8 298.5L1242.8 297.5L1244.8 296.6L1246.8 295.8L1248.8 295.1L1250.8 294.4L1252.8 293.9L1254.8 293.5L1256.8 293.2L1258.8 293.0L1260.8 292.8L1262.8 292.8L1264.8 292.9L1266.8 293.1L1268.8 293.4L1270.8 293.9L1272.8 294.4L1274.8 295.0L1276.8 295.7L1278.8 296.5L1280.8 297.2L1282.8 297.9L1284.8 298.7L1286.8 299.3L1288.8 299.9L1290.8 300.4L1292.8 300.8L1294.8 301.1L1296.8 301.2L1298.8 301.2L1300.8 301.0L1302.8 300.6L1304.8 300.0L1306.8 299.3L1308.8 298.3L1310.8 297.1L1312.8 295.8L1314.8 294.2L1316.8 292.4L1318.8 290.4L1320.8 288.1L1322.8 285.7L1324.8 283.1L1326.8 280.3L1328.8 277.5L1330.8 274.6L1332.8 271.7L1334.8 268.7L1336.8 265.7L1338.8 262.5L1340.8 259.3L1342.8 256.0L1344.8 252.8L1346.8 249.7L1348.8 246.7L1350.8 243.8L1352.8 241.2L1354.8 238.7L1356.8 236.3L1358.8 234.2L1360.8 232.2L1362.8 230.5L1364.8 229.1L1366.8 228.0L1368.8 227.2L1370.8 226.8L1372.8 226.6L1374.8 226.8L1376.8 227.3L1378.8 228.1L1380.8 229.1L1382.8 230.5L1384.8 232.1L1386.8 234.0L1388.8 236.2L1390.8 238.7L1392.8 241.4L1394.8 244.3L1396.8 247.4L1398.8 250.6L1400.8 253.9L1402.8 257.4L1404.8 260.9L1406.8 264.5L1408.8 268.2L1410.8 272.0L1412.8 275.7L1414.8 279.4L1416.8 282.9L1418.8 286.3L1420.8 289.6L1422.8 292.7L1424.8 295.7L1426.8 298.6L1428.8 301.3L1430.8 304.0L1432.8 306.4L1434.8 308.7L1436.8 310.7L1438.8 312.6L1440.8 314.2L1442.8 315.7L1444.8 316.9L1446.8 318.0L1448.8 318.9L1450.8 319.7L1452.8 320.3L1454.8 320.9L1456.8 321.4L1458.8 321.8L1460.8 322.1L1462.8 322.3L1464.8 322.5L1466.8 322.7L1468.8 322.8L1470.8 322.9L1472.8 323.0L1474.8 323.0L1476.8 323.1L1478.8 323.1L1479.8 323.2L1479.8 323.2L974.8 323.2Z" fill="#f2ce8d" stroke="none"/>
<path d="M974.8 323.2L976.8 323.2L978.8 323.2L980.8 323.2L982.8 323.2L984.8 323.2L986.8 323.2L988.8 323.2L990.8 323.2L992.8 323.2L994.8 323.2L996.8 323.2L998.8 323.2L1000.8 323.2L1002.8 323.2L1004.8 323.2L1006.8 323.2L1008.8 323.2L1010.8 323.2L1012.8 323.2L1014.8 323.2L1016.8 323.2L1018.8 323.2L1020.8 323.2L1022.8 323.2L1024.8 323.2L1026.8 323.2L1028.8 323.2L1030.8 323.2L1032.8 323.2L1034.8 323.2L1036.8 323.2L1038.8 323.2L1040.8 323.2L1042.8 323.2L1044.8 323.2L1046.8 323.2L1048.8 323.2L1050.8 323.2L1052.8 323.2L1054.8 323.2L1056.8 323.2L1058.8 323.2L1060.8 323.2L1062.8 323.2L1064.8 323.2L1066.8 323.2L1068.8 323.2L1070.8 323.2L1072.8 323.2L1074.8 323.2L1076.8 323.2L1078.8 323.2L1080.8 323.2L1082.8 323.2L1084.8 323.2L1086.8 323.2L1088.8 323.2L1090.8 323.2L1092.8 323.2L1094.8 323.2L1096.8 323.2L1098.8 323.2L1100.8 323.2L1102.8 323.2L1104.8 323.2L1106.8 323.2L1108.8 323.2L1110.8 323.2L1112.8 323.2L1114.8 323.2L1116.8 323.2L1118.8 323.2L1120.8 323.2L1122.8 323.2L1124.8 323.2L1126.8 323.2L1128.8 323.2L1130.8 323.2L1132.8 323.2L1134.8 323.2L1136.8 323.2L1138.8 323.2L1140.8 323.2L1142.8 323.2L1144.8 323.2L1146.8 323.2L1148.8 323.2L1150.8 323.2L1152.8 323.2L1154.8 323.2L1156.8 323.2L1158.8 323.2L1160.8 323.2L1162.8 323.2L1164.8 323.2L1166.8 323.2L1168.8 323.2L1170.8 323.2L1172.8 323.2L1174.8 323.2L1176.8 323.2L1178.8 323.2L1180.8 323.1L1182.8 323.0L1184.8 322.9L1186.8 322.7L1188.8 322.5L1190.8 322.3L1192.8 322.0L1194.8 321.6L1196.8 321.2L1198.8 320.8L1200.8 320.2L1202.8 319.6L1204.8 318.9L1206.8 318.2L1208.8 317.4L1210.8 316.5L1212.8 315.5L1214.8 314.5L1216.8 313.5L1218.8 312.4L1220.8 311.2L1222.8 310.0L1224.8 308.7L1226.8 307.4L1228.8 306.0L1230.8 304.7L1232.8 303.4L1234.8 302.1L1236.8 300.8L1238.8 299.6L1240.8 298.5L1242.8 297.5L1244.8 296.6L1246.8 295.8L1248.8 295.1L1250.8 294.4L1252.8 293.9L1254.8 293.5L1256.8 293.2L1258.8 293.0L1260.8 292.8L1262.8 292.8L1264.8 292.9L1266.8 293.1L1268.8 293.4L1270.8 293.9L1272.8 294.4L1274.8 295.0L1276.8 295.7L1278.8 296.5L1280.8 297.2L1282.8 297.9L1284.8 298.7L1286.8 299.3L1288.8 299.9L1290.8 300.4L1292.8 300.8L1294.8 301.1L1296.8 301.2L1298.8 301.2L1300.8 301.0L1302.8 300.6L1304.8 300.0L1306.8 299.3L1308.8 298.3L1310.8 297.1L1312.8 295.8L1314.8 294.2L1316.8 292.4L1318.8 290.4L1320.8 288.1L1322.8 285.7L1324.8 283.1L1326.8 280.3L1328.8 277.5L1330.8 274.6L1332.8 271.7L1334.8 268.7L1336.8 265.7L1338.8 262.5L1340.8 259.3L1342.8 256.0L1344.8 252.8L1346.8 249.7L1348.8 246.7L1350.8 243.8L1352.8 241.2L1354.8 238.7L1356.8 236.3L1358.8 234.2L1360.8 232.2L1362.8 230.5L1364.8 229.1L1366.8 228.0L1368.8 227.2L1370.8 226.8L1372.8 226.6L1374.8 226.8L1376.8 227.3L1378.8 228.1L1380.8 229.1L1382.8 230.5L1384.8 232.1L1386.8 234.0L1388.8 236.2L1390.8 238.7L1392.8 241.4L1394.8 244.3L1396.8 247.4L1398.8 250.6L1400.8 253.9L1402.8 257.4L1404.8 260.9L1406.8 264.5L1408.8 268.2L1410.8 272.0L1412.8 275.7L1414.8 279.4L1416.8 282.9L1418.8 286.3L1420.8 289.6L1422.8 292.7L1424.8 295.7L1426.8 298.6L1428.8 301.3L1430.8 304.0L1432.8 306.4L1434.8 308.7L1436.8 310.7L1438.8 312.6L1440.8 314.2L1442.8 315.7L1444.8 316.9L1446.8 318.0L1448.8 318.9L1450.8 319.7L1452.8 320.3L1454.8 320.9L1456.8 321.4L1458.8 321.8L1460.8 322.1L1462.8 322.3L1464.8 322.5L1466.8 322.7L1468.8 322.8L1470.8 322.9L1472.8 323.0L1474.8 323.0L1476.8 323.1L1478.8 323.1L1479.8 323.2" fill="none" stroke="#3a3a3a" stroke-width="2.25" stroke-linecap="butt" stroke-linejoin="round"/>
<path d="M974.8 453.3L976.8 453.3L978.8 453.3L980.8 453.3L982.8 453.3L984.8 453.3L986.8 453.3L988.8 453.3L990.8 453.3L992.8 453.3L994.8 453.3L996.8 453.3L998.8 453.3L1000.8 453.3L1002.8 453.3L1004.8 453.3L1006.8 453.3L1008.8 453.3L1010.8 453.3L1012.8 453.3L1014.8 453.3L1016.8 453.3L1018.8 453.3L1020.8 453.3L1022.8 453.3L1024.8 453.3L1026.8 453.3L1028.8 453.3L1030.8 453.3L1032.8 453.3L1034.8 453.3L1036.8 453.3L1038.8 453.3L1040.8 453.3L1042.8 453.3L1044.8 453.3L1046.8 453.3L1048.8 453.3L1050.8 453.3L1052.8 453.3L1054.8 453.3L1056.8 453.3L1058.8 453.3L1060.8 453.3L1062.8 453.2L1064.8 453.2L1066.8 453.1L1068.8 453.0L1070.8 452.9L1072.8 452.7L1074.8 452.5L1076.8 452.3L1078.8 452.1L1080.8 451.8L1082.8 451.5L1084.8 451.1L1086.8 450.6L1088.8 450.1L1090.8 449.5L1092.8 448.8L1094.8 448.1L1096.8 447.2L1098.8 446.2L1100.8 445.2L1102.8 444.0L1104.8 442.8L1106.8 441.5L1108.8 440.2L1110.8 438.8L1112.8 437.4L1114.8 436.0L1116.8 434.6L1118.8 433.2L1120.8 431.8L1122.8 430.4L1124.8 429.1L1126.8 427.9L1128.8 426.7L1130.8 425.7L1132.8 424.7L1134.8 423.7L1136.8 422.9L1138.8 422.1L1140.8 421.4L1142.8 420.7L1144.8 420.2L1146.8 419.6L1148.8 419.2L1150.8 418.8L1152.8 418.4L1154.8 418.1L1156.8 417.9L1158.8 417.7L1160.8 417.5L1162.8 417.3L1164.8 417.1L1166.8 416.8L1168.8 416.5L1170.8 416.1L1172.8 415.7L1174.8 415.1L1176.8 414.4L1178.8 413.6L1180.8 412.7L1182.8 411.7L1184.8 410.5L1186.8 409.3L1188.8 407.9L1190.8 406.5L1192.8 405.0L1194.8 403.4L1196.8 401.7L1198.8 400.0L1200.8 398.3L1202.8 396.6L1204.8 395.0L1206.8 393.4L1208.8 391.9L1210.8 390.5L1212.8 389.3L1214.8 388.1L1216.8 387.2L1218.8 386.4L1220.8 385.7L1222.8 385.2L1224.8 384.7L1226.8 384.4L1228.8 384.2L1230.8 384.1L1232.8 384.1L1234.8 384.1L1236.8 384.3L1238.8 384.6L1240.8 385.0L1242.8 385.4L1244.8 385.9L1246.8 386.4L1248.8 387.0L1250.8 387.5L1252.8 388.1L1254.8 388.6L1256.8 389.2L1258.8 389.7L1260.8 390.2L1262.8 390.6L1264.8 391.1L1266.8 391.5L1268.8 391.9L1270.8 392.4L1272.8 392.9L1274.8 393.5L1276.8 394.1L1278.8 394.8L1280.8 395.6L1282.8 396.4L1284.8 397.4L1286.8 398.4L1288.8 399.5L1290.8 400.7L1292.8 401.9L1294.8 403.2L1296.8 404.5L1298.8 406.0L1300.8 407.4L1302.8 408.9L1304.8 410.5L1306.8 412.2L1308.8 413.9L1310.8 415.6L1312.8 417.5L1314.8 419.3L1316.8 421.2L1318.8 423.1L1320.8 425.0L1322.8 426.9L1324.8 428.7L1326.8 430.5L1328.8 432.2L1330.8 433.9L1332.8 435.6L1334.8 437.2L1336.8 438.8L1338.8 440.2L1340.8 441.6L1342.8 442.9L1344.8 444.2L1346.8 445.3L1348.8 446.3L1350.8 447.2L1352.8 448.1L1354.8 448.9L1356.8 449.6L1358.8 450.2L1360.8 450.7L1362.8 451.2L1364.8 451.5L1366.8 451.8L1368.8 452.1L1370.8 452.3L1372.8 452.4L1374.8 452.6L1376.8 452.7L1378.8 452.8L1380.8 452.9L1382.8 453.0L1384.8 453.1L1386.8 453.2L1388.8 453.2L1390.8 453.3L1392.8 453.3L1394.8 453.3L1396.8 453.3L1398.8 453.3L1400.8 453.3L1402.8 453.3L1404.8 453.3L1406.8 453.3L1408.8 453.3L1410.8 453.3L1412.8 453.3L1414.8 453.3L1416.8 453.3L1418.8 453.3L1420.8 453.3L1422.8 453.3L1424.8 453.3L1426.8 453.3L1428.8 453.3L1430.8 453.3L1432.8 453.3L1434.8 453.3L1436.8 453.3L1438.8 453.3L1440.8 453.3L1442.8 453.3L1444.8 453.3L1446.8 453.3L1448.8 453.3L1450.8 453.3L1452.8 453.3L1454.8 453.3L1456.8 453.3L1458.8 453.3L1460.8 453.3L1462.8 453.3L1464.8 453.3L1466.8 453.3L1468.8 453.3L1470.8 453.3L1472.8 453.3L1474.8 453.3L1476.8 453.3L1478.8 453.3L1479.8 453.3L1479.8 453.3L974.8 453.3Z" fill="#89c38b" stroke="none"/>
<path d="M974.8 453.3L976.8 453.3L978.8 453.3L980.8 453.3L982.8 453.3L984.8 453.3L986.8 453.3L988.8 453.3L990.8 453.3L992.8 453.3L994.8 453.3L996.8 453.3L998.8 453.3L1000.8 453.3L1002.8 453.3L1004.8 453.3L1006.8 453.3L1008.8 453.3L1010.8 453.3L1012.8 453.3L1014.8 453.3L1016.8 453.3L1018.8 453.3L1020.8 453.3L1022.8 453.3L1024.8 453.3L1026.8 453.3L1028.8 453.3L1030.8 453.3L1032.8 453.3L1034.8 453.3L1036.8 453.3L1038.8 453.3L1040.8 453.3L1042.8 453.3L1044.8 453.3L1046.8 453.3L1048.8 453.3L1050.8 453.3L1052.8 453.3L1054.8 453.3L1056.8 453.3L1058.8 453.3L1060.8 453.3L1062.8 453.2L1064.8 453.2L1066.8 453.1L1068.8 453.0L1070.8 452.9L1072.8 452.7L1074.8 452.5L1076.8 452.3L1078.8 452.1L1080.8 451.8L1082.8 451.5L1084.8 451.1L1086.8 450.6L1088.8 450.1L1090.8 449.5L1092.8 448.8L1094.8 448.1L1096.8 447.2L1098.8 446.2L1100.8 445.2L1102.8 444.0L1104.8 442.8L1106.8 441.5L1108.8 440.2L1110.8 438.8L1112.8 437.4L1114.8 436.0L1116.8 434.6L1118.8 433.2L1120.8 431.8L1122.8 430.4L1124.8 429.1L1126.8 427.9L1128.8 426.7L1130.8 425.7L1132.8 424.7L1134.8 423.7L1136.8 422.9L1138.8 422.1L1140.8 421.4L1142.8 420.7L1144.8 420.2L1146.8 419.6L1148.8 419.2L1150.8 418.8L1152.8 418.4L1154.8 418.1L1156.8 417.9L1158.8 417.7L1160.8 417.5L1162.8 417.3L1164.8 417.1L1166.8 416.8L1168.8 416.5L1170.8 416.1L1172.8 415.7L1174.8 415.1L1176.8 414.4L1178.8 413.6L1180.8 412.7L1182.8 411.7L1184.8 410.5L1186.8 409.3L1188.8 407.9L1190.8 406.5L1192.8 405.0L1194.8 403.4L1196.8 401.7L1198.8 400.0L1200.8 398.3L1202.8 396.6L1204.8 395.0L1206.8 393.4L1208.8 391.9L1210.8 390.5L1212.8 389.3L1214.8 388.1L1216.8 387.2L1218.8 386.4L1220.8 385.7L1222.8 385.2L1224.8 384.7L1226.8 384.4L1228.8 384.2L1230.8 384.1L1232.8 384.1L1234.8 384.1L1236.8 384.3L1238.8 384.6L1240.8 385.0L1242.8 385.4L1244.8 385.9L1246.8 386.4L1248.8 387.0L1250.8 387.5L1252.8 388.1L1254.8 388.6L1256.8 389.2L1258.8 389.7L1260.8 390.2L1262.8 390.6L1264.8 391.1L1266.8 391.5L1268.8 391.9L1270.8 392.4L1272.8 392.9L1274.8 393.5L1276.8 394.1L1278.8 394.8L1280.8 395.6L1282.8 396.4L1284.8 397.4L1286.8 398.4L1288.8 399.5L1290.8 400.7L1292.8 401.9L1294.8 403.2L1296.8 404.5L1298.8 406.0L1300.8 407.4L1302.8 408.9L1304.8 410.5L1306.8 412.2L1308.8 413.9L1310.8 415.6L1312.8 417.5L1314.8 419.3L1316.8 421.2L1318.8 423.1L1320.8 425.0L1322.8 426.9L1324.8 428.7L1326.8 430.5L1328.8 432.2L1330.8 433.9L1332.8 435.6L1334.8 437.2L1336.8 438.8L1338.8 440.2L1340.8 441.6L1342.8 442.9L1344.8 444.2L1346.8 445.3L1348.8 446.3L1350.8 447.2L1352.8 448.1L1354.8 448.9L1356.8 449.6L1358.8 450.2L1360.8 450.7L1362.8 451.2L1364.8 451.5L1366.8 451.8L1368.8 452.1L1370.8 452.3L1372.8 452.4L1374.8 452.6L1376.8 452.7L1378.8 452.8L1380.8 452.9L1382.8 453.0L1384.8 453.1L1386.8 453.2L1388.8 453.2L1390.8 453.3L1392.8 453.3L1394.8 453.3L1396.8 453.3L1398.8 453.3L1400.8 453.3L1402.8 453.3L1404.8 453.3L1406.8 453.3L1408.8 453.3L1410.8 453.3L1412.8 453.3L1414.8 453.3L1416.8 453.3L1418.8 453.3L1420.8 453.3L1422.8 453.3L1424.8 453.3L1426.8 453.3L1428.8 453.3L1430.8 453.3L1432.8 453.3L1434.8 453.3L1436.8 453.3L1438.8 453.3L1440.8 453.3L1442.8 453.3L1444.8 453.3L1446.8 453.3L1448.8 453.3L1450.8 453.3L1452.8 453.3L1454.8 453.3L1456.8 453.3L1458.8 453.3L1460.8 453.3L1462.8 453.3L1464.8 453.3L1466.8 453.3L1468.8 453.3L1470.8 453.3L1472.8 453.3L1474.8 453.3L1476.8 453.3L1478.8 453.3L1479.8 453.3" fill="none" stroke="#3a3a3a" stroke-width="2.25" stroke-linecap="butt" stroke-linejoin="round"/>
</g>
<path d="M970.7 7.7V470.5Q970.7 472.5 972.7 472.5H1484.0" fill="none" stroke="#888888" stroke-width="2.3"/>
<line x1="964.7" y1="63.2" x2="970.2" y2="63.2" stroke="#484848" stroke-width="2.20"/>
<text x="910.3" y="70.3" font-size="19.8" text-anchor="middle" fill="#4a4a4a" textLength="69.7" lengthAdjust="spacing" stroke="#4a4a4a" stroke-width="0.20">Control</text>
<line x1="964.7" y1="193.2" x2="970.2" y2="193.2" stroke="#484848" stroke-width="2.20"/>
<text x="910.3" y="200.4" font-size="19.8" text-anchor="middle" fill="#4a4a4a" textLength="36.0" lengthAdjust="spacing" stroke="#4a4a4a" stroke-width="0.20">Low</text>
<line x1="964.7" y1="323.2" x2="970.2" y2="323.2" stroke="#484848" stroke-width="2.20"/>
<text x="910.3" y="330.3" font-size="19.8" text-anchor="middle" fill="#4a4a4a" textLength="89.0" lengthAdjust="spacing" stroke="#4a4a4a" stroke-width="0.20">Moderate</text>
<line x1="964.7" y1="453.3" x2="970.2" y2="453.3" stroke="#484848" stroke-width="2.20"/>
<text x="910.3" y="460.4" font-size="19.8" text-anchor="middle" fill="#4a4a4a" textLength="42.0" lengthAdjust="spacing" stroke="#4a4a4a" stroke-width="0.20">High</text>
<line x1="974.8" y1="472.5" x2="974.8" y2="478.5" stroke="#484848" stroke-width="2.20"/>
<text x="974.8" y="504.2" font-size="20.3" text-anchor="middle" fill="#4a4a4a" textLength="28.0" lengthAdjust="spacing" stroke="#4a4a4a" stroke-width="0.20">0.0</text>
<line x1="1071.9" y1="472.5" x2="1071.9" y2="478.5" stroke="#484848" stroke-width="2.20"/>
<text x="1071.9" y="504.2" font-size="20.3" text-anchor="middle" fill="#4a4a4a" textLength="28.0" lengthAdjust="spacing" stroke="#4a4a4a" stroke-width="0.20">0.5</text>
<line x1="1168.6" y1="472.5" x2="1168.6" y2="478.5" stroke="#484848" stroke-width="2.20"/>
<text x="1168.6" y="504.2" font-size="20.3" text-anchor="middle" fill="#4a4a4a" textLength="28.0" lengthAdjust="spacing" stroke="#4a4a4a" stroke-width="0.20">1.0</text>
<line x1="1265.4" y1="472.5" x2="1265.4" y2="478.5" stroke="#484848" stroke-width="2.20"/>
<text x="1265.4" y="504.2" font-size="20.3" text-anchor="middle" fill="#4a4a4a" textLength="28.0" lengthAdjust="spacing" stroke="#4a4a4a" stroke-width="0.20">1.5</text>
<line x1="1362.1" y1="472.5" x2="1362.1" y2="478.5" stroke="#484848" stroke-width="2.20"/>
<text x="1362.1" y="504.2" font-size="20.3" text-anchor="middle" fill="#4a4a4a" textLength="28.0" lengthAdjust="spacing" stroke="#4a4a4a" stroke-width="0.20">2.0</text>
<line x1="1458.8" y1="472.5" x2="1458.8" y2="478.5" stroke="#484848" stroke-width="2.20"/>
<text x="1458.8" y="504.2" font-size="20.3" text-anchor="middle" fill="#4a4a4a" textLength="28.0" lengthAdjust="spacing" stroke="#4a4a4a" stroke-width="0.20">2.5</text>
<text x="1227.9" y="545.9" font-size="27.4" text-anchor="middle" fill="#464646" textLength="157.2" lengthAdjust="spacingAndGlyphs" stroke="#464646" stroke-width="0.10">Chlorophyll b</text>
<text x="844.8" y="240.8" font-size="27.8" text-anchor="middle" fill="#484848" textLength="121.2" lengthAdjust="spacingAndGlyphs" stroke="#484848" stroke-width="0.10" transform="rotate(-90 844.8 240.8)">Treatment</text>
<path d="M1498.0 55.1 H1503.9 Q1505.5 55.1 1505.5 56.7 V291.5 Q1505.5 293.1 1503.9 293.1 H1498.0" fill="none" stroke="#6188d4" stroke-width="1.7" stroke-linecap="round"/>
<path d="M1500.1 301.0 H1505.7 Q1507.3 301.0 1507.3 302.6 V454.5 Q1507.3 456.1 1505.7 456.1 H1500.1" fill="none" stroke="#6188d4" stroke-width="1.7" stroke-linecap="round"/>
<g transform="translate(1519.50 166.90) scale(1.26 0.95)"><text x="0" y="0" font-size="35" text-anchor="middle" fill="#000" stroke="#000" stroke-width="0.35" stroke-linejoin="round">*</text></g>
<g transform="translate(1520.10 485.80) scale(1.26 0.95)"><text x="0" y="0" font-size="35" text-anchor="middle" fill="#000" stroke="#000" stroke-width="0.35" stroke-linejoin="round">*</text></g>
<clipPath id="clip587"><rect x="587.5" y="594.4" width="574.3" height="483.9"/></clipPath>
<g clip-path="url(#clip587)">
<path d="M591.8 673.9L593.8 673.9L595.8 673.9L597.8 673.9L599.8 673.9L601.8 673.9L603.8 673.9L605.8 673.9L607.8 673.9L609.8 673.9L611.8 673.9L613.8 673.9L615.8 673.9L617.8 673.9L619.8 673.9L621.8 673.9L623.8 673.9L625.8 673.9L627.8 673.9L629.8 673.9L631.8 673.9L633.8 673.9L635.8 673.9L637.8 673.9L639.8 673.9L641.8 673.9L643.8 673.9L645.8 673.9L647.8 673.9L649.8 673.9L651.8 673.9L653.8 673.9L655.8 673.9L657.8 673.9L659.8 673.9L661.8 673.9L663.8 673.9L665.8 673.9L667.8 673.9L669.8 673.9L671.8 673.9L673.8 673.9L675.8 673.9L677.8 673.9L679.8 673.9L681.8 673.9L683.8 673.9L685.8 673.9L687.8 673.9L689.8 673.9L691.8 673.9L693.8 673.9L695.8 673.9L697.8 673.9L699.8 673.9L701.8 673.9L703.8 673.9L705.8 673.9L707.8 673.9L709.8 673.9L711.8 673.9L713.8 673.9L715.8 673.9L717.8 673.9L719.8 673.9L721.8 673.8L723.8 673.7L725.8 673.5L727.8 673.4L729.8 673.2L731.8 673.0L733.8 672.7L735.8 672.5L737.8 672.2L739.8 671.9L741.8 671.5L743.8 671.0L745.8 670.5L747.8 670.0L749.8 669.3L751.8 668.6L753.8 667.8L755.8 667.0L757.8 666.1L759.8 665.2L761.8 664.2L763.8 663.1L765.8 662.0L767.8 660.9L769.8 659.7L771.8 658.4L773.8 657.2L775.8 655.9L777.8 654.6L779.8 653.3L781.8 652.0L783.8 650.8L785.8 649.6L787.8 648.5L789.8 647.5L791.8 646.5L793.8 645.6L795.8 644.8L797.8 644.1L799.8 643.5L801.8 643.0L803.8 642.6L805.8 642.2L807.8 642.0L809.8 641.8L811.8 641.7L813.8 641.7L815.8 641.8L817.8 642.0L819.8 642.3L821.8 642.7L823.8 643.1L825.8 643.7L827.8 644.2L829.8 644.8L831.8 645.5L833.8 646.1L835.8 646.7L837.8 647.2L839.8 647.8L841.8 648.3L843.8 648.7L845.8 649.0L847.8 649.3L849.8 649.6L851.8 649.7L853.8 649.8L855.8 649.9L857.8 649.8L859.8 649.7L861.8 649.5L863.8 649.1L865.8 648.7L867.8 648.2L869.8 647.7L871.8 647.1L873.8 646.5L875.8 645.8L877.8 645.2L879.8 644.5L881.8 643.9L883.8 643.3L885.8 642.8L887.8 642.4L889.8 642.0L891.8 641.7L893.8 641.5L895.8 641.4L897.8 641.4L899.8 641.4L901.8 641.6L903.8 641.8L905.8 642.1L907.8 642.5L909.8 643.0L911.8 643.4L913.8 643.9L915.8 644.5L917.8 645.0L919.8 645.5L921.8 645.9L923.8 646.3L925.8 646.7L927.8 647.0L929.8 647.1L931.8 647.2L933.8 647.2L935.8 647.1L937.8 646.9L939.8 646.5L941.8 645.9L943.8 645.2L945.8 644.3L947.8 643.3L949.8 642.1L951.8 640.7L953.8 639.2L955.8 637.5L957.8 635.7L959.8 633.8L961.8 631.7L963.8 629.5L965.8 627.2L967.8 624.8L969.8 622.3L971.8 619.8L973.8 617.3L975.8 614.8L977.8 612.4L979.8 610.0L981.8 607.8L983.8 605.6L985.8 603.7L987.8 601.8L989.8 600.2L991.8 598.8L993.8 597.6L995.8 596.6L997.8 595.9L999.8 595.5L1001.8 595.2L1003.8 595.0L1005.8 595.0L1007.8 595.1L1009.8 595.4L1011.8 595.9L1013.8 596.6L1015.8 597.6L1017.8 598.8L1019.8 600.3L1021.8 602.0L1023.8 603.8L1025.8 605.9L1027.8 608.1L1029.8 610.4L1031.8 612.9L1033.8 615.5L1035.8 618.1L1037.8 620.8L1039.8 623.6L1041.8 626.4L1043.8 629.3L1045.8 632.1L1047.8 634.9L1049.8 637.6L1051.8 640.3L1053.8 642.9L1055.8 645.3L1057.8 647.7L1059.8 649.9L1061.8 652.1L1063.8 654.1L1065.8 656.0L1067.8 657.8L1069.8 659.5L1071.8 661.0L1073.8 662.5L1075.8 663.7L1077.8 664.9L1079.8 665.9L1081.8 666.9L1083.8 667.7L1085.8 668.5L1087.8 669.2L1089.8 669.8L1091.8 670.4L1093.8 670.9L1095.8 671.4L1097.8 671.8L1099.8 672.1L1101.8 672.4L1103.8 672.6L1105.8 672.8L1107.8 673.0L1109.8 673.2L1111.8 673.3L1113.8 673.4L1115.8 673.5L1117.8 673.6L1117.8 673.9L591.8 673.9Z" fill="#a5c3f1" stroke="none"/>
<path d="M591.8 673.9L593.8 673.9L595.8 673.9L597.8 673.9L599.8 673.9L601.8 673.9L603.8 673.9L605.8 673.9L607.8 673.9L609.8 673.9L611.8 673.9L613.8 673.9L615.8 673.9L617.8 673.9L619.8 673.9L621.8 673.9L623.8 673.9L625.8 673.9L627.8 673.9L629.8 673.9L631.8 673.9L633.8 673.9L635.8 673.9L637.8 673.9L639.8 673.9L641.8 673.9L643.8 673.9L645.8 673.9L647.8 673.9L649.8 673.9L651.8 673.9L653.8 673.9L655.8 673.9L657.8 673.9L659.8 673.9L661.8 673.9L663.8 673.9L665.8 673.9L667.8 673.9L669.8 673.9L671.8 673.9L673.8 673.9L675.8 673.9L677.8 673.9L679.8 673.9L681.8 673.9L683.8 673.9L685.8 673.9L687.8 673.9L689.8 673.9L691.8 673.9L693.8 673.9L695.8 673.9L697.8 673.9L699.8 673.9L701.8 673.9L703.8 673.9L705.8 673.9L707.8 673.9L709.8 673.9L711.8 673.9L713.8 673.9L715.8 673.9L717.8 673.9L719.8 673.9L721.8 673.8L723.8 673.7L725.8 673.5L727.8 673.4L729.8 673.2L731.8 673.0L733.8 672.7L735.8 672.5L737.8 672.2L739.8 671.9L741.8 671.5L743.8 671.0L745.8 670.5L747.8 670.0L749.8 669.3L751.8 668.6L753.8 667.8L755.8 667.0L757.8 666.1L759.8 665.2L761.8 664.2L763.8 663.1L765.8 662.0L767.8 660.9L769.8 659.7L771.8 658.4L773.8 657.2L775.8 655.9L777.8 654.6L779.8 653.3L781.8 652.0L783.8 650.8L785.8 649.6L787.8 648.5L789.8 647.5L791.8 646.5L793.8 645.6L795.8 644.8L797.8 644.1L799.8 643.5L801.8 643.0L803.8 642.6L805.8 642.2L807.8 642.0L809.8 641.8L811.8 641.7L813.8 641.7L815.8 641.8L817.8 642.0L819.8 642.3L821.8 642.7L823.8 643.1L825.8 643.7L827.8 644.2L829.8 644.8L831.8 645.5L833.8 646.1L835.8 646.7L837.8 647.2L839.8 647.8L841.8 648.3L843.8 648.7L845.8 649.0L847.8 649.3L849.8 649.6L851.8 649.7L853.8 649.8L855.8 649.9L857.8 649.8L859.8 649.7L861.8 649.5L863.8 649.1L865.8 648.7L867.8 648.2L869.8 647.7L871.8 647.1L873.8 646.5L875.8 645.8L877.8 645.2L879.8 644.5L881.8 643.9L883.8 643.3L885.8 642.8L887.8 642.4L889.8 642.0L891.8 641.7L893.8 641.5L895.8 641.4L897.8 641.4L899.8 641.4L901.8 641.6L903.8 641.8L905.8 642.1L907.8 642.5L909.8 643.0L911.8 643.4L913.8 643.9L915.8 644.5L917.8 645.0L919.8 645.5L921.8 645.9L923.8 646.3L925.8 646.7L927.8 647.0L929.8 647.1L931.8 647.2L933.8 647.2L935.8 647.1L937.8 646.9L939.8 646.5L941.8 645.9L943.8 645.2L945.8 644.3L947.8 643.3L949.8 642.1L951.8 640.7L953.8 639.2L955.8 637.5L957.8 635.7L959.8 633.8L961.8 631.7L963.8 629.5L965.8 627.2L967.8 624.8L969.8 622.3L971.8 619.8L973.8 617.3L975.8 614.8L977.8 612.4L979.8 610.0L981.8 607.8L983.8 605.6L985.8 603.7L987.8 601.8L989.8 600.2L991.8 598.8L993.8 597.6L995.8 596.6L997.8 595.9L999.8 595.5L1001.8 595.2L1003.8 595.0L1005.8 595.0L1007.8 595.1L1009.8 595.4L1011.8 595.9L1013.8 596.6L1015.8 597.6L1017.8 598.8L1019.8 600.3L1021.8 602.0L1023.8 603.8L1025.8 605.9L1027.8 608.1L1029.8 610.4L1031.8 612.9L1033.8 615.5L1035.8 618.1L1037.8 620.8L1039.8 623.6L1041.8 626.4L1043.8 629.3L1045.8 632.1L1047.8 634.9L1049.8 637.6L1051.8 640.3L1053.8 642.9L1055.8 645.3L1057.8 647.7L1059.8 649.9L1061.8 652.1L1063.8 654.1L1065.8 656.0L1067.8 657.8L1069.8 659.5L1071.8 661.0L1073.8 662.5L1075.8 663.7L1077.8 664.9L1079.8 665.9L1081.8 666.9L1083.8 667.7L1085.8 668.5L1087.8 669.2L1089.8 669.8L1091.8 670.4L1093.8 670.9L1095.8 671.4L1097.8 671.8L1099.8 672.1L1101.8 672.4L1103.8 672.6L1105.8 672.8L1107.8 673.0L1109.8 673.2L1111.8 673.3L1113.8 673.4L1115.8 673.5L1117.8 673.6" fill="none" stroke="#3a3a3a" stroke-width="2.25" stroke-linecap="butt" stroke-linejoin="round"/>
<path d="M591.8 801.7L593.8 801.7L595.8 801.6L597.8 801.5L599.8 801.3L601.8 801.1L603.8 800.9L605.8 800.6L607.8 800.2L609.8 799.8L611.8 799.4L613.8 798.8L615.8 798.2L617.8 797.5L619.8 796.8L621.8 796.0L623.8 795.1L625.8 794.1L627.8 793.0L629.8 791.8L631.8 790.6L633.8 789.2L635.8 787.7L637.8 786.0L639.8 784.3L641.8 782.4L643.8 780.5L645.8 778.4L647.8 776.2L649.8 773.9L651.8 771.5L653.8 769.0L655.8 766.5L657.8 763.9L659.8 761.3L661.8 758.7L663.8 756.0L665.8 753.3L667.8 750.6L669.8 747.9L671.8 745.1L673.8 742.5L675.8 739.8L677.8 737.2L679.8 734.6L681.8 732.1L683.8 729.6L685.8 727.2L687.8 724.9L689.8 722.8L691.8 720.7L693.8 718.7L695.8 717.0L697.8 715.3L699.8 713.9L701.8 712.6L703.8 711.5L705.8 710.6L707.8 709.8L709.8 709.1L711.8 708.6L713.8 708.3L715.8 708.1L717.8 708.1L719.8 708.4L721.8 708.8L723.8 709.4L725.8 710.2L727.8 711.2L729.8 712.4L731.8 713.8L733.8 715.4L735.8 717.1L737.8 718.9L739.8 720.9L741.8 723.1L743.8 725.3L745.8 727.6L747.8 730.1L749.8 732.6L751.8 735.1L753.8 737.7L755.8 740.4L757.8 743.1L759.8 745.8L761.8 748.6L763.8 751.4L765.8 754.2L767.8 756.9L769.8 759.7L771.8 762.4L773.8 765.2L775.8 767.9L777.8 770.5L779.8 773.1L781.8 775.6L783.8 777.9L785.8 780.2L787.8 782.3L789.8 784.2L791.8 786.0L793.8 787.5L795.8 789.0L797.8 790.2L799.8 791.3L801.8 792.2L803.8 793.0L805.8 793.7L807.8 794.2L809.8 794.6L811.8 794.8L813.8 794.9L815.8 795.0L817.8 794.8L819.8 794.6L821.8 794.2L823.8 793.8L825.8 793.1L827.8 792.4L829.8 791.5L831.8 790.5L833.8 789.5L835.8 788.3L837.8 787.2L839.8 786.0L841.8 784.8L843.8 783.6L845.8 782.4L847.8 781.2L849.8 780.0L851.8 778.9L853.8 777.8L855.8 776.8L857.8 775.9L859.8 775.0L861.8 774.2L863.8 773.5L865.8 772.9L867.8 772.4L869.8 772.0L871.8 771.7L873.8 771.5L875.8 771.4L877.8 771.4L879.8 771.5L881.8 771.8L883.8 772.2L885.8 772.8L887.8 773.4L889.8 774.2L891.8 775.1L893.8 776.1L895.8 777.2L897.8 778.4L899.8 779.6L901.8 780.9L903.8 782.2L905.8 783.5L907.8 784.7L909.8 786.0L911.8 787.3L913.8 788.5L915.8 789.7L917.8 790.8L919.8 791.9L921.8 793.0L923.8 794.0L925.8 795.0L927.8 795.8L929.8 796.6L931.8 797.3L933.8 798.0L935.8 798.6L937.8 799.1L939.8 799.6L941.8 800.0L943.8 800.4L945.8 800.7L947.8 801.0L949.8 801.2L951.8 801.4L953.8 801.6L955.8 801.7L957.8 801.8L959.8 801.9L961.8 801.9L963.8 802.0L965.8 802.0L967.8 802.1L969.8 802.1L971.8 802.2L973.8 802.2L975.8 802.2L977.8 802.2L979.8 802.3L981.8 802.3L983.8 802.3L985.8 802.3L987.8 802.3L989.8 802.3L991.8 802.3L993.8 802.3L995.8 802.3L997.8 802.3L999.8 802.3L1001.8 802.3L1003.8 802.3L1005.8 802.3L1007.8 802.3L1009.8 802.3L1011.8 802.3L1013.8 802.3L1015.8 802.3L1017.8 802.3L1019.8 802.3L1021.8 802.3L1023.8 802.3L1025.8 802.3L1027.8 802.3L1029.8 802.3L1031.8 802.3L1033.8 802.3L1035.8 802.3L1037.8 802.3L1039.8 802.3L1041.8 802.3L1043.8 802.3L1045.8 802.3L1047.8 802.3L1049.8 802.3L1051.8 802.3L1053.8 802.3L1055.8 802.3L1057.8 802.3L1059.8 802.3L1061.8 802.3L1063.8 802.3L1065.8 802.3L1067.8 802.3L1069.8 802.3L1071.8 802.3L1073.8 802.3L1075.8 802.3L1077.8 802.3L1079.8 802.3L1081.8 802.3L1083.8 802.3L1085.8 802.3L1087.8 802.3L1089.8 802.3L1091.8 802.3L1093.8 802.3L1095.8 802.3L1097.8 802.3L1099.8 802.3L1101.8 802.3L1103.8 802.3L1105.8 802.3L1107.8 802.3L1109.8 802.3L1111.8 802.3L1113.8 802.3L1115.8 802.3L1117.8 802.3L1117.8 802.3L591.8 802.3Z" fill="#c5c5c5" stroke="none"/>
<path d="M591.8 801.7L593.8 801.7L595.8 801.6L597.8 801.5L599.8 801.3L601.8 801.1L603.8 800.9L605.8 800.6L607.8 800.2L609.8 799.8L611.8 799.4L613.8 798.8L615.8 798.2L617.8 797.5L619.8 796.8L621.8 796.0L623.8 795.1L625.8 794.1L627.8 793.0L629.8 791.8L631.8 790.6L633.8 789.2L635.8 787.7L637.8 786.0L639.8 784.3L641.8 782.4L643.8 780.5L645.8 778.4L647.8 776.2L649.8 773.9L651.8 771.5L653.8 769.0L655.8 766.5L657.8 763.9L659.8 761.3L661.8 758.7L663.8 756.0L665.8 753.3L667.8 750.6L669.8 747.9L671.8 745.1L673.8 742.5L675.8 739.8L677.8 737.2L679.8 734.6L681.8 732.1L683.8 729.6L685.8 727.2L687.8 724.9L689.8 722.8L691.8 720.7L693.8 718.7L695.8 717.0L697.8 715.3L699.8 713.9L701.8 712.6L703.8 711.5L705.8 710.6L707.8 709.8L709.8 709.1L711.8 708.6L713.8 708.3L715.8 708.1L717.8 708.1L719.8 708.4L721.8 708.8L723.8 709.4L725.8 710.2L727.8 711.2L729.8 712.4L731.8 713.8L733.8 715.4L735.8 717.1L737.8 718.9L739.8 720.9L741.8 723.1L743.8 725.3L745.8 727.6L747.8 730.1L749.8 732.6L751.8 735.1L753.8 737.7L755.8 740.4L757.8 743.1L759.8 745.8L761.8 748.6L763.8 751.4L765.8 754.2L767.8 756.9L769.8 759.7L771.8 762.4L773.8 765.2L775.8 767.9L777.8 770.5L779.8 773.1L781.8 775.6L783.8 777.9L785.8 780.2L787.8 782.3L789.8 784.2L791.8 786.0L793.8 787.5L795.8 789.0L797.8 790.2L799.8 791.3L801.8 792.2L803.8 793.0L805.8 793.7L807.8 794.2L809.8 794.6L811.8 794.8L813.8 794.9L815.8 795.0L817.8 794.8L819.8 794.6L821.8 794.2L823.8 793.8L825.8 793.1L827.8 792.4L829.8 791.5L831.8 790.5L833.8 789.5L835.8 788.3L837.8 787.2L839.8 786.0L841.8 784.8L843.8 783.6L845.8 782.4L847.8 781.2L849.8 780.0L851.8 778.9L853.8 777.8L855.8 776.8L857.8 775.9L859.8 775.0L861.8 774.2L863.8 773.5L865.8 772.9L867.8 772.4L869.8 772.0L871.8 771.7L873.8 771.5L875.8 771.4L877.8 771.4L879.8 771.5L881.8 771.8L883.8 772.2L885.8 772.8L887.8 773.4L889.8 774.2L891.8 775.1L893.8 776.1L895.8 777.2L897.8 778.4L899.8 779.6L901.8 780.9L903.8 782.2L905.8 783.5L907.8 784.7L909.8 786.0L911.8 787.3L913.8 788.5L915.8 789.7L917.8 790.8L919.8 791.9L921.8 793.0L923.8 794.0L925.8 795.0L927.8 795.8L929.8 796.6L931.8 797.3L933.8 798.0L935.8 798.6L937.8 799.1L939.8 799.6L941.8 800.0L943.8 800.4L945.8 800.7L947.8 801.0L949.8 801.2L951.8 801.4L953.8 801.6L955.8 801.7L957.8 801.8L959.8 801.9L961.8 801.9L963.8 802.0L965.8 802.0L967.8 802.1L969.8 802.1L971.8 802.2L973.8 802.2L975.8 802.2L977.8 802.2L979.8 802.3L981.8 802.3L983.8 802.3L985.8 802.3L987.8 802.3L989.8 802.3L991.8 802.3L993.8 802.3L995.8 802.3L997.8 802.3L999.8 802.3L1001.8 802.3L1003.8 802.3L1005.8 802.3L1007.8 802.3L1009.8 802.3L1011.8 802.3L1013.8 802.3L1015.8 802.3L1017.8 802.3L1019.8 802.3L1021.8 802.3L1023.8 802.3L1025.8 802.3L1027.8 802.3L1029.8 802.3L1031.8 802.3L1033.8 802.3L1035.8 802.3L1037.8 802.3L1039.8 802.3L1041.8 802.3L1043.8 802.3L1045.8 802.3L1047.8 802.3L1049.8 802.3L1051.8 802.3L1053.8 802.3L1055.8 802.3L1057.8 802.3L1059.8 802.3L1061.8 802.3L1063.8 802.3L1065.8 802.3L1067.8 802.3L1069.8 802.3L1071.8 802.3L1073.8 802.3L1075.8 802.3L1077.8 802.3L1079.8 802.3L1081.8 802.3L1083.8 802.3L1085.8 802.3L1087.8 802.3L1089.8 802.3L1091.8 802.3L1093.8 802.3L1095.8 802.3L1097.8 802.3L1099.8 802.3L1101.8 802.3L1103.8 802.3L1105.8 802.3L1107.8 802.3L1109.8 802.3L1111.8 802.3L1113.8 802.3L1115.8 802.3L1117.8 802.3" fill="none" stroke="#3a3a3a" stroke-width="2.25" stroke-linecap="butt" stroke-linejoin="round"/>
<path d="M591.8 930.9L593.8 930.9L595.8 930.8L597.8 930.8L599.8 930.7L601.8 930.7L603.8 930.6L605.8 930.5L607.8 930.3L609.8 930.2L611.8 930.0L613.8 929.8L615.8 929.5L617.8 929.3L619.8 929.0L621.8 928.6L623.8 928.3L625.8 927.8L627.8 927.3L629.8 926.8L631.8 926.2L633.8 925.6L635.8 924.8L637.8 924.0L639.8 923.0L641.8 921.9L643.8 920.7L645.8 919.4L647.8 917.8L649.8 916.2L651.8 914.3L653.8 912.4L655.8 910.2L657.8 908.0L659.8 905.6L661.8 903.0L663.8 900.3L665.8 897.3L667.8 894.2L669.8 891.0L671.8 887.5L673.8 883.9L675.8 880.3L677.8 876.5L679.8 872.7L681.8 868.9L683.8 865.1L685.8 861.4L687.8 857.7L689.8 854.0L691.8 850.4L693.8 846.9L695.8 843.5L697.8 840.1L699.8 836.9L701.8 833.8L703.8 830.9L705.8 828.3L707.8 825.8L709.8 823.7L711.8 821.8L713.8 820.1L715.8 818.6L717.8 817.3L719.8 816.3L721.8 815.6L723.8 815.1L725.8 814.8L727.8 814.7L729.8 814.9L731.8 815.2L733.8 815.9L735.8 816.7L737.8 817.8L739.8 819.0L741.8 820.5L743.8 822.2L745.8 824.1L747.8 826.2L749.8 828.4L751.8 830.9L753.8 833.4L755.8 836.1L757.8 838.9L759.8 841.9L761.8 844.9L763.8 848.1L765.8 851.3L767.8 854.7L769.8 858.1L771.8 861.5L773.8 864.9L775.8 868.3L777.8 871.6L779.8 875.0L781.8 878.3L783.8 881.6L785.8 884.9L787.8 888.0L789.8 891.1L791.8 894.0L793.8 896.8L795.8 899.5L797.8 902.1L799.8 904.6L801.8 907.0L803.8 909.2L805.8 911.4L807.8 913.5L809.8 915.3L811.8 917.1L813.8 918.7L815.8 920.2L817.8 921.6L819.8 922.8L821.8 923.9L823.8 924.9L825.8 925.8L827.8 926.6L829.8 927.3L831.8 927.9L833.8 928.4L835.8 928.9L837.8 929.3L839.8 929.6L841.8 929.9L843.8 930.1L845.8 930.3L847.8 930.5L849.8 930.6L851.8 930.8L853.8 930.9L855.8 930.9L857.8 931.0L859.8 931.1L861.8 931.1L863.8 931.1L865.8 931.1L867.8 931.1L869.8 931.1L871.8 931.1L873.8 931.1L875.8 931.1L877.8 931.1L879.8 931.1L881.8 931.1L883.8 931.1L885.8 931.1L887.8 931.1L889.8 931.1L891.8 931.1L893.8 931.1L895.8 931.1L897.8 931.1L899.8 931.1L901.8 931.1L903.8 931.1L905.8 931.1L907.8 931.1L909.8 931.1L911.8 931.1L913.8 931.1L915.8 931.1L917.8 931.1L919.8 931.1L921.8 931.1L923.8 931.1L925.8 931.1L927.8 931.1L929.8 931.1L931.8 931.1L933.8 931.1L935.8 931.1L937.8 931.1L939.8 931.1L941.8 931.1L943.8 931.1L945.8 931.1L947.8 931.1L949.8 931.1L951.8 931.1L953.8 931.1L955.8 931.1L957.8 931.1L959.8 931.1L961.8 931.1L963.8 931.1L965.8 931.1L967.8 931.1L969.8 931.1L971.8 931.1L973.8 931.1L975.8 931.1L977.8 931.1L979.8 931.1L981.8 931.1L983.8 931.1L985.8 931.1L987.8 931.1L989.8 931.1L991.8 931.1L993.8 931.1L995.8 931.1L997.8 931.1L999.8 931.1L1001.8 931.1L1003.8 931.1L1005.8 931.1L1007.8 931.1L1009.8 931.1L1011.8 931.1L1013.8 931.1L1015.8 931.1L1017.8 931.1L1019.8 931.1L1021.8 931.1L1023.8 931.1L1025.8 931.1L1027.8 931.1L1029.8 931.1L1031.8 931.1L1033.8 931.1L1035.8 931.1L1037.8 931.1L1039.8 931.1L1041.8 931.1L1043.8 931.1L1045.8 931.1L1047.8 931.1L1049.8 931.1L1051.8 931.1L1053.8 931.1L1055.8 931.1L1057.8 931.1L1059.8 931.1L1061.8 931.1L1063.8 931.1L1065.8 931.1L1067.8 931.1L1069.8 931.1L1071.8 931.1L1073.8 931.1L1075.8 931.1L1077.8 931.1L1079.8 931.1L1081.8 931.1L1083.8 931.1L1085.8 931.1L1087.8 931.1L1089.8 931.1L1091.8 931.1L1093.8 931.1L1095.8 931.1L1097.8 931.1L1099.8 931.1L1101.8 931.1L1103.8 931.1L1105.8 931.1L1107.8 931.1L1109.8 931.1L1111.8 931.1L1113.8 931.1L1115.8 931.1L1117.8 931.1L1117.8 931.1L591.8 931.1Z" fill="#f2ce8d" stroke="none"/>
<path d="M591.8 930.9L593.8 930.9L595.8 930.8L597.8 930.8L599.8 930.7L601.8 930.7L603.8 930.6L605.8 930.5L607.8 930.3L609.8 930.2L611.8 930.0L613.8 929.8L615.8 929.5L617.8 929.3L619.8 929.0L621.8 928.6L623.8 928.3L625.8 927.8L627.8 927.3L629.8 926.8L631.8 926.2L633.8 925.6L635.8 924.8L637.8 924.0L639.8 923.0L641.8 921.9L643.8 920.7L645.8 919.4L647.8 917.8L649.8 916.2L651.8 914.3L653.8 912.4L655.8 910.2L657.8 908.0L659.8 905.6L661.8 903.0L663.8 900.3L665.8 897.3L667.8 894.2L669.8 891.0L671.8 887.5L673.8 883.9L675.8 880.3L677.8 876.5L679.8 872.7L681.8 868.9L683.8 865.1L685.8 861.4L687.8 857.7L689.8 854.0L691.8 850.4L693.8 846.9L695.8 843.5L697.8 840.1L699.8 836.9L701.8 833.8L703.8 830.9L705.8 828.3L707.8 825.8L709.8 823.7L711.8 821.8L713.8 820.1L715.8 818.6L717.8 817.3L719.8 816.3L721.8 815.6L723.8 815.1L725.8 814.8L727.8 814.7L729.8 814.9L731.8 815.2L733.8 815.9L735.8 816.7L737.8 817.8L739.8 819.0L741.8 820.5L743.8 822.2L745.8 824.1L747.8 826.2L749.8 828.4L751.8 830.9L753.8 833.4L755.8 836.1L757.8 838.9L759.8 841.9L761.8 844.9L763.8 848.1L765.8 851.3L767.8 854.7L769.8 858.1L771.8 861.5L773.8 864.9L775.8 868.3L777.8 871.6L779.8 875.0L781.8 878.3L783.8 881.6L785.8 884.9L787.8 888.0L789.8 891.1L791.8 894.0L793.8 896.8L795.8 899.5L797.8 902.1L799.8 904.6L801.8 907.0L803.8 909.2L805.8 911.4L807.8 913.5L809.8 915.3L811.8 917.1L813.8 918.7L815.8 920.2L817.8 921.6L819.8 922.8L821.8 923.9L823.8 924.9L825.8 925.8L827.8 926.6L829.8 927.3L831.8 927.9L833.8 928.4L835.8 928.9L837.8 929.3L839.8 929.6L841.8 929.9L843.8 930.1L845.8 930.3L847.8 930.5L849.8 930.6L851.8 930.8L853.8 930.9L855.8 930.9L857.8 931.0L859.8 931.1L861.8 931.1L863.8 931.1L865.8 931.1L867.8 931.1L869.8 931.1L871.8 931.1L873.8 931.1L875.8 931.1L877.8 931.1L879.8 931.1L881.8 931.1L883.8 931.1L885.8 931.1L887.8 931.1L889.8 931.1L891.8 931.1L893.8 931.1L895.8 931.1L897.8 931.1L899.8 931.1L901.8 931.1L903.8 931.1L905.8 931.1L907.8 931.1L909.8 931.1L911.8 931.1L913.8 931.1L915.8 931.1L917.8 931.1L919.8 931.1L921.8 931.1L923.8 931.1L925.8 931.1L927.8 931.1L929.8 931.1L931.8 931.1L933.8 931.1L935.8 931.1L937.8 931.1L939.8 931.1L941.8 931.1L943.8 931.1L945.8 931.1L947.8 931.1L949.8 931.1L951.8 931.1L953.8 931.1L955.8 931.1L957.8 931.1L959.8 931.1L961.8 931.1L963.8 931.1L965.8 931.1L967.8 931.1L969.8 931.1L971.8 931.1L973.8 931.1L975.8 931.1L977.8 931.1L979.8 931.1L981.8 931.1L983.8 931.1L985.8 931.1L987.8 931.1L989.8 931.1L991.8 931.1L993.8 931.1L995.8 931.1L997.8 931.1L999.8 931.1L1001.8 931.1L1003.8 931.1L1005.8 931.1L1007.8 931.1L1009.8 931.1L1011.8 931.1L1013.8 931.1L1015.8 931.1L1017.8 931.1L1019.8 931.1L1021.8 931.1L1023.8 931.1L1025.8 931.1L1027.8 931.1L1029.8 931.1L1031.8 931.1L1033.8 931.1L1035.8 931.1L1037.8 931.1L1039.8 931.1L1041.8 931.1L1043.8 931.1L1045.8 931.1L1047.8 931.1L1049.8 931.1L1051.8 931.1L1053.8 931.1L1055.8 931.1L1057.8 931.1L1059.8 931.1L1061.8 931.1L1063.8 931.1L1065.8 931.1L1067.8 931.1L1069.8 931.1L1071.8 931.1L1073.8 931.1L1075.8 931.1L1077.8 931.1L1079.8 931.1L1081.8 931.1L1083.8 931.1L1085.8 931.1L1087.8 931.1L1089.8 931.1L1091.8 931.1L1093.8 931.1L1095.8 931.1L1097.8 931.1L1099.8 931.1L1101.8 931.1L1103.8 931.1L1105.8 931.1L1107.8 931.1L1109.8 931.1L1111.8 931.1L1113.8 931.1L1115.8 931.1L1117.8 931.1" fill="none" stroke="#3a3a3a" stroke-width="2.25" stroke-linecap="butt" stroke-linejoin="round"/>
<path d="M591.8 1059.6L593.8 1059.6L595.8 1059.6L597.8 1059.6L599.8 1059.6L601.8 1059.6L603.8 1059.6L605.8 1059.6L607.8 1059.6L609.8 1059.6L611.8 1059.6L613.8 1059.6L615.8 1059.6L617.8 1059.6L619.8 1059.6L621.8 1059.6L623.8 1059.6L625.8 1059.6L627.8 1059.6L629.8 1059.6L631.8 1059.6L633.8 1059.6L635.8 1059.6L637.8 1059.6L639.8 1059.6L641.8 1059.6L643.8 1059.6L645.8 1059.6L647.8 1059.6L649.8 1059.6L651.8 1059.6L653.8 1059.6L655.8 1059.6L657.8 1059.6L659.8 1059.6L661.8 1059.6L663.8 1059.6L665.8 1059.6L667.8 1059.6L669.8 1059.6L671.8 1059.6L673.8 1059.6L675.8 1059.6L677.8 1059.6L679.8 1059.6L681.8 1059.6L683.8 1059.6L685.8 1059.5L687.8 1059.5L689.8 1059.5L691.8 1059.4L693.8 1059.4L695.8 1059.3L697.8 1059.2L699.8 1059.1L701.8 1059.0L703.8 1058.8L705.8 1058.7L707.8 1058.5L709.8 1058.3L711.8 1058.0L713.8 1057.7L715.8 1057.4L717.8 1057.0L719.8 1056.7L721.8 1056.2L723.8 1055.7L725.8 1055.2L727.8 1054.6L729.8 1054.0L731.8 1053.3L733.8 1052.6L735.8 1051.8L737.8 1050.9L739.8 1049.9L741.8 1048.9L743.8 1047.8L745.8 1046.6L747.8 1045.4L749.8 1044.1L751.8 1042.7L753.8 1041.3L755.8 1039.9L757.8 1038.4L759.8 1036.8L761.8 1035.2L763.8 1033.6L765.8 1032.0L767.8 1030.4L769.8 1028.8L771.8 1027.2L773.8 1025.6L775.8 1024.1L777.8 1022.6L779.8 1021.2L781.8 1019.9L783.8 1018.6L785.8 1017.4L787.8 1016.2L789.8 1015.1L791.8 1014.1L793.8 1013.1L795.8 1012.1L797.8 1011.3L799.8 1010.5L801.8 1009.7L803.8 1009.0L805.8 1008.4L807.8 1007.7L809.8 1007.2L811.8 1006.6L813.8 1006.1L815.8 1005.6L817.8 1005.1L819.8 1004.6L821.8 1004.2L823.8 1003.7L825.8 1003.2L827.8 1002.7L829.8 1002.3L831.8 1001.8L833.8 1001.2L835.8 1000.7L837.8 1000.1L839.8 999.5L841.8 998.8L843.8 998.1L845.8 997.4L847.8 996.6L849.8 995.9L851.8 995.1L853.8 994.4L855.8 993.7L857.8 993.0L859.8 992.3L861.8 991.7L863.8 991.1L865.8 990.6L867.8 990.2L869.8 989.8L871.8 989.4L873.8 989.1L875.8 988.8L877.8 988.6L879.8 988.4L881.8 988.2L883.8 988.1L885.8 988.1L887.8 988.2L889.8 988.3L891.8 988.5L893.8 988.8L895.8 989.2L897.8 989.8L899.8 990.4L901.8 991.1L903.8 991.9L905.8 992.8L907.8 993.7L909.8 994.6L911.8 995.7L913.8 996.7L915.8 997.9L917.8 999.1L919.8 1000.4L921.8 1001.8L923.8 1003.3L925.8 1004.8L927.8 1006.4L929.8 1008.0L931.8 1009.6L933.8 1011.3L935.8 1013.1L937.8 1014.9L939.8 1016.7L941.8 1018.5L943.8 1020.4L945.8 1022.2L947.8 1024.1L949.8 1026.0L951.8 1027.9L953.8 1029.8L955.8 1031.7L957.8 1033.5L959.8 1035.3L961.8 1037.1L963.8 1038.8L965.8 1040.4L967.8 1041.9L969.8 1043.4L971.8 1044.8L973.8 1046.2L975.8 1047.4L977.8 1048.6L979.8 1049.7L981.8 1050.7L983.8 1051.6L985.8 1052.5L987.8 1053.3L989.8 1054.0L991.8 1054.6L993.8 1055.2L995.8 1055.8L997.8 1056.3L999.8 1056.7L1001.8 1057.1L1003.8 1057.4L1005.8 1057.7L1007.8 1058.0L1009.8 1058.2L1011.8 1058.4L1013.8 1058.6L1015.8 1058.8L1017.8 1058.9L1019.8 1059.1L1021.8 1059.2L1023.8 1059.3L1025.8 1059.4L1027.8 1059.4L1029.8 1059.5L1031.8 1059.5L1033.8 1059.6L1035.8 1059.6L1037.8 1059.6L1039.8 1059.6L1041.8 1059.6L1043.8 1059.6L1045.8 1059.6L1047.8 1059.6L1049.8 1059.6L1051.8 1059.6L1053.8 1059.6L1055.8 1059.6L1057.8 1059.6L1059.8 1059.6L1061.8 1059.6L1063.8 1059.6L1065.8 1059.6L1067.8 1059.6L1069.8 1059.6L1071.8 1059.6L1073.8 1059.6L1075.8 1059.6L1077.8 1059.6L1079.8 1059.6L1081.8 1059.6L1083.8 1059.6L1085.8 1059.6L1087.8 1059.6L1089.8 1059.6L1091.8 1059.6L1093.8 1059.6L1095.8 1059.6L1097.8 1059.6L1099.8 1059.6L1101.8 1059.6L1103.8 1059.6L1105.8 1059.6L1107.8 1059.6L1109.8 1059.6L1111.8 1059.6L1113.8 1059.6L1115.8 1059.6L1117.8 1059.6L1117.8 1059.6L591.8 1059.6Z" fill="#89c38b" stroke="none"/>
<path d="M591.8 1059.6L593.8 1059.6L595.8 1059.6L597.8 1059.6L599.8 1059.6L601.8 1059.6L603.8 1059.6L605.8 1059.6L607.8 1059.6L609.8 1059.6L611.8 1059.6L613.8 1059.6L615.8 1059.6L617.8 1059.6L619.8 1059.6L621.8 1059.6L623.8 1059.6L625.8 1059.6L627.8 1059.6L629.8 1059.6L631.8 1059.6L633.8 1059.6L635.8 1059.6L637.8 1059.6L639.8 1059.6L641.8 1059.6L643.8 1059.6L645.8 1059.6L647.8 1059.6L649.8 1059.6L651.8 1059.6L653.8 1059.6L655.8 1059.6L657.8 1059.6L659.8 1059.6L661.8 1059.6L663.8 1059.6L665.8 1059.6L667.8 1059.6L669.8 1059.6L671.8 1059.6L673.8 1059.6L675.8 1059.6L677.8 1059.6L679.8 1059.6L681.8 1059.6L683.8 1059.6L685.8 1059.5L687.8 1059.5L689.8 1059.5L691.8 1059.4L693.8 1059.4L695.8 1059.3L697.8 1059.2L699.8 1059.1L701.8 1059.0L703.8 1058.8L705.8 1058.7L707.8 1058.5L709.8 1058.3L711.8 1058.0L713.8 1057.7L715.8 1057.4L717.8 1057.0L719.8 1056.7L721.8 1056.2L723.8 1055.7L725.8 1055.2L727.8 1054.6L729.8 1054.0L731.8 1053.3L733.8 1052.6L735.8 1051.8L737.8 1050.9L739.8 1049.9L741.8 1048.9L743.8 1047.8L745.8 1046.6L747.8 1045.4L749.8 1044.1L751.8 1042.7L753.8 1041.3L755.8 1039.9L757.8 1038.4L759.8 1036.8L761.8 1035.2L763.8 1033.6L765.8 1032.0L767.8 1030.4L769.8 1028.8L771.8 1027.2L773.8 1025.6L775.8 1024.1L777.8 1022.6L779.8 1021.2L781.8 1019.9L783.8 1018.6L785.8 1017.4L787.8 1016.2L789.8 1015.1L791.8 1014.1L793.8 1013.1L795.8 1012.1L797.8 1011.3L799.8 1010.5L801.8 1009.7L803.8 1009.0L805.8 1008.4L807.8 1007.7L809.8 1007.2L811.8 1006.6L813.8 1006.1L815.8 1005.6L817.8 1005.1L819.8 1004.6L821.8 1004.2L823.8 1003.7L825.8 1003.2L827.8 1002.7L829.8 1002.3L831.8 1001.8L833.8 1001.2L835.8 1000.7L837.8 1000.1L839.8 999.5L841.8 998.8L843.8 998.1L845.8 997.4L847.8 996.6L849.8 995.9L851.8 995.1L853.8 994.4L855.8 993.7L857.8 993.0L859.8 992.3L861.8 991.7L863.8 991.1L865.8 990.6L867.8 990.2L869.8 989.8L871.8 989.4L873.8 989.1L875.8 988.8L877.8 988.6L879.8 988.4L881.8 988.2L883.8 988.1L885.8 988.1L887.8 988.2L889.8 988.3L891.8 988.5L893.8 988.8L895.8 989.2L897.8 989.8L899.8 990.4L901.8 991.1L903.8 991.9L905.8 992.8L907.8 993.7L909.8 994.6L911.8 995.7L913.8 996.7L915.8 997.9L917.8 999.1L919.8 1000.4L921.8 1001.8L923.8 1003.3L925.8 1004.8L927.8 1006.4L929.8 1008.0L931.8 1009.6L933.8 1011.3L935.8 1013.1L937.8 1014.9L939.8 1016.7L941.8 1018.5L943.8 1020.4L945.8 1022.2L947.8 1024.1L949.8 1026.0L951.8 1027.9L953.8 1029.8L955.8 1031.7L957.8 1033.5L959.8 1035.3L961.8 1037.1L963.8 1038.8L965.8 1040.4L967.8 1041.9L969.8 1043.4L971.8 1044.8L973.8 1046.2L975.8 1047.4L977.8 1048.6L979.8 1049.7L981.8 1050.7L983.8 1051.6L985.8 1052.5L987.8 1053.3L989.8 1054.0L991.8 1054.6L993.8 1055.2L995.8 1055.8L997.8 1056.3L999.8 1056.7L1001.8 1057.1L1003.8 1057.4L1005.8 1057.7L1007.8 1058.0L1009.8 1058.2L1011.8 1058.4L1013.8 1058.6L1015.8 1058.8L1017.8 1058.9L1019.8 1059.1L1021.8 1059.2L1023.8 1059.3L1025.8 1059.4L1027.8 1059.4L1029.8 1059.5L1031.8 1059.5L1033.8 1059.6L1035.8 1059.6L1037.8 1059.6L1039.8 1059.6L1041.8 1059.6L1043.8 1059.6L1045.8 1059.6L1047.8 1059.6L1049.8 1059.6L1051.8 1059.6L1053.8 1059.6L1055.8 1059.6L1057.8 1059.6L1059.8 1059.6L1061.8 1059.6L1063.8 1059.6L1065.8 1059.6L1067.8 1059.6L1069.8 1059.6L1071.8 1059.6L1073.8 1059.6L1075.8 1059.6L1077.8 1059.6L1079.8 1059.6L1081.8 1059.6L1083.8 1059.6L1085.8 1059.6L1087.8 1059.6L1089.8 1059.6L1091.8 1059.6L1093.8 1059.6L1095.8 1059.6L1097.8 1059.6L1099.8 1059.6L1101.8 1059.6L1103.8 1059.6L1105.8 1059.6L1107.8 1059.6L1109.8 1059.6L1111.8 1059.6L1113.8 1059.6L1115.8 1059.6L1117.8 1059.6" fill="none" stroke="#3a3a3a" stroke-width="2.25" stroke-linecap="butt" stroke-linejoin="round"/>
</g>
<path d="M587.5 594.6V1076.5Q587.5 1078.5 589.5 1078.5H1121.8" fill="none" stroke="#888888" stroke-width="2.3"/>
<line x1="580.5" y1="673.9" x2="587.0" y2="673.9" stroke="#484848" stroke-width="2.20"/>
<text x="524.0" y="681.3" font-size="20.6" text-anchor="middle" fill="#4a4a4a" textLength="72.5" lengthAdjust="spacing" stroke="#4a4a4a" stroke-width="0.20">Control</text>
<line x1="580.5" y1="802.3" x2="587.0" y2="802.3" stroke="#484848" stroke-width="2.20"/>
<text x="524.0" y="809.7" font-size="20.6" text-anchor="middle" fill="#4a4a4a" textLength="38.8" lengthAdjust="spacing" stroke="#4a4a4a" stroke-width="0.20">Low</text>
<line x1="580.5" y1="931.1" x2="587.0" y2="931.1" stroke="#484848" stroke-width="2.20"/>
<text x="524.0" y="938.5" font-size="20.6" text-anchor="middle" fill="#4a4a4a" textLength="93.2" lengthAdjust="spacing" stroke="#4a4a4a" stroke-width="0.20">Moderate</text>
<line x1="580.5" y1="1059.6" x2="587.0" y2="1059.6" stroke="#484848" stroke-width="2.20"/>
<text x="524.0" y="1067.0" font-size="20.6" text-anchor="middle" fill="#4a4a4a" textLength="44.8" lengthAdjust="spacing" stroke="#4a4a4a" stroke-width="0.20">High</text>
<line x1="598.5" y1="1078.5" x2="598.5" y2="1085.5" stroke="#484848" stroke-width="2.20"/>
<text x="598.5" y="1112.3" font-size="21.3" text-anchor="middle" fill="#4a4a4a" textLength="41.8" lengthAdjust="spacing" stroke="#4a4a4a" stroke-width="0.20">0.25</text>
<line x1="705.5" y1="1078.5" x2="705.5" y2="1085.5" stroke="#484848" stroke-width="2.20"/>
<text x="705.5" y="1112.3" font-size="21.3" text-anchor="middle" fill="#4a4a4a" textLength="41.8" lengthAdjust="spacing" stroke="#4a4a4a" stroke-width="0.20">0.30</text>
<line x1="811.9" y1="1078.5" x2="811.9" y2="1085.5" stroke="#484848" stroke-width="2.20"/>
<text x="811.9" y="1112.3" font-size="21.3" text-anchor="middle" fill="#4a4a4a" textLength="41.8" lengthAdjust="spacing" stroke="#4a4a4a" stroke-width="0.20">0.35</text>
<line x1="918.8" y1="1078.5" x2="918.8" y2="1085.5" stroke="#484848" stroke-width="2.20"/>
<text x="918.8" y="1112.3" font-size="21.3" text-anchor="middle" fill="#4a4a4a" textLength="41.8" lengthAdjust="spacing" stroke="#4a4a4a" stroke-width="0.20">0.40</text>
<line x1="1025.3" y1="1078.5" x2="1025.3" y2="1085.5" stroke="#484848" stroke-width="2.20"/>
<text x="1025.3" y="1112.3" font-size="21.3" text-anchor="middle" fill="#4a4a4a" textLength="41.8" lengthAdjust="spacing" stroke="#4a4a4a" stroke-width="0.20">0.45</text>
<text x="855.2" y="1155.5" font-size="28.3" text-anchor="middle" fill="#464646" textLength="136.2" lengthAdjust="spacingAndGlyphs" stroke="#464646" stroke-width="0.10">Carotenoid</text>
<text x="456.4" y="837.2" font-size="29.2" text-anchor="middle" fill="#484848" textLength="127.0" lengthAdjust="spacingAndGlyphs" stroke="#484848" stroke-width="0.10" transform="rotate(-90 456.4 837.2)">Treatment</text>
<path d="M1186.0 805.8 H1191.9 Q1193.5 805.8 1193.5 807.4 V1053.6 Q1193.5 1055.2 1191.9 1055.2 H1186.0" fill="none" stroke="#6188d4" stroke-width="1.7" stroke-linecap="round"/>
<path d="M1156.3 921.6 H1161.7 Q1163.3 921.6 1163.3 923.2 V1055.7 Q1163.3 1057.3 1161.7 1057.3 H1156.3" fill="none" stroke="#6188d4" stroke-width="1.7" stroke-linecap="round"/>
<g transform="translate(1213.70 929.40) scale(1.26 0.95)"><text x="0" y="0" font-size="35" text-anchor="middle" fill="#000" stroke="#000" stroke-width="0.35" stroke-linejoin="round">*</text></g>
<g transform="translate(1178.90 1010.10) scale(1.26 0.95)"><text x="0" y="0" font-size="35" text-anchor="middle" fill="#000" stroke="#000" stroke-width="0.35" stroke-linejoin="round">*</text></g>
</svg>
</body>
</html>
